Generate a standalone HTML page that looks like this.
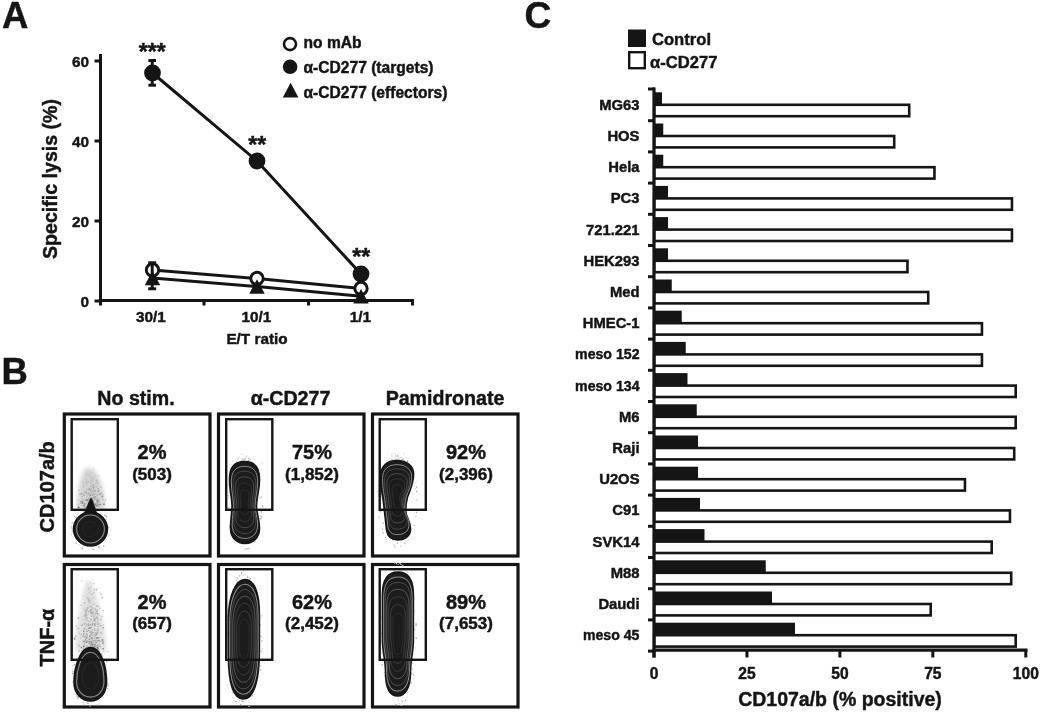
<!DOCTYPE html>
<html><head><meta charset="utf-8"><title>Figure</title>
<style>
html,body{margin:0;padding:0;background:#fff;}
body{width:1040px;height:712px;overflow:hidden;}
svg{display:block;}
text{font-family:"Liberation Sans",Arial,Helvetica,sans-serif;font-weight:bold;fill:#151515;stroke:#151515;stroke-width:0.45px;}
</style></head><body>
<svg width="1040" height="712" viewBox="0 0 1040 712">
<defs><filter id="bl" x="-50%" y="-50%" width="200%" height="200%"><feGaussianBlur stdDeviation="2.2"/></filter></defs>
<rect width="1040" height="712" fill="#fff"/>
<text x="2" y="28" font-size="36.5" text-anchor="start" >A</text>
<line x1="100.5" y1="54" x2="100.5" y2="305.5" stroke="#151515" stroke-width="3"/>
<line x1="99" y1="300.5" x2="414" y2="300.5" stroke="#151515" stroke-width="3"/>
<line x1="94.5" y1="61" x2="100" y2="61" stroke="#151515" stroke-width="3"/>
<text x="89" y="66.5" font-size="15.3" text-anchor="end" >60</text>
<line x1="94.5" y1="141" x2="100" y2="141" stroke="#151515" stroke-width="3"/>
<text x="89" y="146.5" font-size="15.3" text-anchor="end" >40</text>
<line x1="94.5" y1="221" x2="100" y2="221" stroke="#151515" stroke-width="3"/>
<text x="89" y="226.5" font-size="15.3" text-anchor="end" >20</text>
<line x1="94.5" y1="301" x2="100" y2="301" stroke="#151515" stroke-width="3"/>
<text x="89" y="306.5" font-size="15.3" text-anchor="end" >0</text>
<line x1="204" y1="300" x2="204" y2="305.5" stroke="#151515" stroke-width="3"/>
<line x1="308.5" y1="300" x2="308.5" y2="305.5" stroke="#151515" stroke-width="3"/>
<line x1="412.5" y1="300" x2="412.5" y2="305.5" stroke="#151515" stroke-width="3"/>
<text x="151" y="322" font-size="15.3" text-anchor="middle" >30/1</text>
<text x="256.3" y="322" font-size="15.3" text-anchor="middle" >10/1</text>
<text x="360.5" y="322" font-size="15.3" text-anchor="middle" >1/1</text>
<text x="257" y="343.5" font-size="15.3" text-anchor="middle" >E/T ratio</text>
<text transform="translate(57,179) rotate(-90)" x="0" y="0" font-size="19.6" text-anchor="middle">Specific lysis (%)</text>
<polyline points="152.5,278 257,286.5 361,296.2" fill="none" stroke="#151515" stroke-width="3"/>
<polyline points="152.5,270 257,278.5 361,288.5" fill="none" stroke="#151515" stroke-width="3"/>
<polyline points="152.5,73 257,161 361,274" fill="none" stroke="#151515" stroke-width="3"/>
<circle cx="152.5" cy="270" r="6.2" fill="#fff" stroke="#151515" stroke-width="2.9"/>
<circle cx="257" cy="278.5" r="6.2" fill="#fff" stroke="#151515" stroke-width="2.9"/>
<circle cx="361" cy="288.5" r="6.2" fill="#fff" stroke="#151515" stroke-width="2.9"/>
<line x1="152.2" y1="262.8" x2="152.2" y2="288.8" stroke="#151515" stroke-width="3"/>
<line x1="148.2" y1="262.8" x2="156.2" y2="262.8" stroke="#151515" stroke-width="3"/>
<line x1="148.2" y1="288.8" x2="156.2" y2="288.8" stroke="#151515" stroke-width="3"/>
<polygon points="152.5,270.75 144.75,285.25 160.25,285.25" fill="#151515"/>
<polygon points="257,279.25 249.25,293.75 264.75,293.75" fill="#151515"/>
<polygon points="361,288.95 353.25,303.45 368.75,303.45" fill="#151515"/>
<line x1="152.2" y1="60.5" x2="152.2" y2="85.2" stroke="#151515" stroke-width="3"/>
<line x1="148.39999999999998" y1="60.5" x2="156.0" y2="60.5" stroke="#151515" stroke-width="3"/>
<line x1="148.39999999999998" y1="85.2" x2="156.0" y2="85.2" stroke="#151515" stroke-width="3"/>
<circle cx="152.5" cy="73" r="8.4" fill="#151515"/>
<circle cx="257" cy="161" r="8.4" fill="#151515"/>
<circle cx="361" cy="274" r="8.4" fill="#151515"/>
<text x="152.3" y="60" font-size="23" text-anchor="middle" >***</text>
<text x="257.3" y="152.5" font-size="23" text-anchor="middle" >**</text>
<text x="361.2" y="264.5" font-size="23" text-anchor="middle" >**</text>
<circle cx="290" cy="44.1" r="6" fill="#fff" stroke="#151515" stroke-width="2.6"/>
<text x="303.5" y="48.3" font-size="15.6" text-anchor="start" >no mAb</text>
<circle cx="290.1" cy="66.8" r="7.3" fill="#151515"/>
<text x="303.5" y="72.9" font-size="15.6" text-anchor="start" >α-CD277 (targets)</text>
<polygon points="290.6,82.8 282.8,97.5 298.4,97.5" fill="#151515"/>
<text x="303.5" y="97.6" font-size="15.6" text-anchor="start" >α-CD277 (effectors)</text>
<text x="1.5" y="384" font-size="36.5" text-anchor="start" >B</text>
<rect x="64.3" y="414.0" width="145.7" height="142.0" fill="none" stroke="#151515" stroke-width="3.2"/>
<rect x="64.3" y="564.5" width="145.7" height="142.5" fill="none" stroke="#151515" stroke-width="3.2"/>
<rect x="218.5" y="414.0" width="145.5" height="142.0" fill="none" stroke="#151515" stroke-width="3.2"/>
<rect x="218.5" y="564.5" width="145.5" height="142.5" fill="none" stroke="#151515" stroke-width="3.2"/>
<rect x="372.5" y="414.0" width="145.5" height="142.0" fill="none" stroke="#151515" stroke-width="3.2"/>
<rect x="372.5" y="564.5" width="145.5" height="142.5" fill="none" stroke="#151515" stroke-width="3.2"/>
<text x="136" y="405" font-size="19.6" text-anchor="middle" >No stim.</text>
<text x="290.5" y="405" font-size="19.6" text-anchor="middle" >α-CD277</text>
<text x="445" y="405" font-size="19.6" text-anchor="middle" >Pamidronate</text>
<text transform="translate(54,486.8) rotate(-90)" font-size="20" text-anchor="middle">CD107a/b</text>
<text transform="translate(54,637.5) rotate(-90)" font-size="20" text-anchor="middle">TNF-α</text>
<text x="152" y="459" font-size="20" text-anchor="middle" >2%</text>
<text x="152" y="479.5" font-size="17" text-anchor="middle" >(503)</text>
<text x="312" y="459" font-size="20" text-anchor="middle" >75%</text>
<text x="312" y="479.5" font-size="17" text-anchor="middle" >(1,852)</text>
<text x="466" y="459" font-size="20" text-anchor="middle" >92%</text>
<text x="466" y="479.5" font-size="17" text-anchor="middle" >(2,396)</text>
<text x="152" y="609" font-size="20" text-anchor="middle" >2%</text>
<text x="152" y="628.7" font-size="17" text-anchor="middle" >(657)</text>
<text x="312" y="609" font-size="20" text-anchor="middle" >62%</text>
<text x="312" y="628.7" font-size="17" text-anchor="middle" >(2,452)</text>
<text x="466" y="609" font-size="20" text-anchor="middle" >89%</text>
<text x="466" y="628.7" font-size="17" text-anchor="middle" >(7,653)</text>
<text x="524.5" y="28" font-size="37" text-anchor="start" >C</text>
<rect x="628" y="29.5" width="18" height="17.5" fill="#151515"/>
<text x="652" y="45" font-size="16.6" text-anchor="start" >Control</text>
<rect x="629.2" y="52.2" width="15.6" height="16" fill="#fff" stroke="#151515" stroke-width="2.4"/>
<text x="650" y="67.5" font-size="16.6" text-anchor="start" >α-CD277</text>
<rect x="654.2" y="104.8" width="254.99999999999994" height="11.4" fill="#fff" stroke="#151515" stroke-width="2.6"/>
<rect x="654.2" y="92.3" width="7.7999999999999545" height="12.6" fill="#151515"/>
<text x="639.5" y="109.69999999999999" font-size="14.8" text-anchor="end" >MG63</text>
<line x1="648" y1="120.7" x2="655" y2="120.7" stroke="#151515" stroke-width="3"/>
<rect x="654.2" y="136.0" width="239.99999999999994" height="11.4" fill="#fff" stroke="#151515" stroke-width="2.6"/>
<rect x="654.2" y="123.5" width="9.049999999999955" height="12.6" fill="#151515"/>
<text x="639.5" y="140.9" font-size="14.8" text-anchor="end" >HOS</text>
<line x1="648" y1="151.9" x2="655" y2="151.9" stroke="#151515" stroke-width="3"/>
<rect x="654.2" y="167.20000000000002" width="280.24999999999994" height="11.4" fill="#fff" stroke="#151515" stroke-width="2.6"/>
<rect x="654.2" y="154.70000000000002" width="9.049999999999955" height="12.6" fill="#151515"/>
<text x="639.5" y="172.1" font-size="14.8" text-anchor="end" >Hela</text>
<line x1="648" y1="183.1" x2="655" y2="183.1" stroke="#151515" stroke-width="3"/>
<rect x="654.2" y="198.4" width="357.74999999999994" height="11.4" fill="#fff" stroke="#151515" stroke-width="2.6"/>
<rect x="654.2" y="185.9" width="13.799999999999955" height="12.6" fill="#151515"/>
<text x="639.5" y="203.29999999999998" font-size="14.8" text-anchor="end" >PC3</text>
<line x1="648" y1="214.29999999999998" x2="655" y2="214.29999999999998" stroke="#151515" stroke-width="3"/>
<rect x="654.2" y="229.60000000000002" width="357.74999999999994" height="11.4" fill="#fff" stroke="#151515" stroke-width="2.6"/>
<rect x="654.2" y="217.10000000000002" width="13.799999999999955" height="12.6" fill="#151515"/>
<text x="639.5" y="234.5" font-size="14.8" text-anchor="end" >721.221</text>
<line x1="648" y1="245.5" x2="655" y2="245.5" stroke="#151515" stroke-width="3"/>
<rect x="654.2" y="260.8" width="253.24999999999994" height="11.4" fill="#fff" stroke="#151515" stroke-width="2.6"/>
<rect x="654.2" y="248.3" width="13.799999999999955" height="12.6" fill="#151515"/>
<text x="639.5" y="265.70000000000005" font-size="14.8" text-anchor="end" >HEK293</text>
<line x1="648" y1="276.7" x2="655" y2="276.7" stroke="#151515" stroke-width="3"/>
<rect x="654.2" y="292.0" width="273.99999999999994" height="11.4" fill="#fff" stroke="#151515" stroke-width="2.6"/>
<rect x="654.2" y="279.5" width="17.549999999999955" height="12.6" fill="#151515"/>
<text x="639.5" y="296.90000000000003" font-size="14.8" text-anchor="end" >Med</text>
<line x1="648" y1="307.9" x2="655" y2="307.9" stroke="#151515" stroke-width="3"/>
<rect x="654.2" y="323.2" width="327.74999999999994" height="11.4" fill="#fff" stroke="#151515" stroke-width="2.6"/>
<rect x="654.2" y="310.7" width="27.549999999999955" height="12.6" fill="#151515"/>
<text x="639.5" y="328.1" font-size="14.8" text-anchor="end" >HMEC-1</text>
<line x1="648" y1="339.09999999999997" x2="655" y2="339.09999999999997" stroke="#151515" stroke-width="3"/>
<rect x="654.2" y="354.40000000000003" width="327.74999999999994" height="11.4" fill="#fff" stroke="#151515" stroke-width="2.6"/>
<rect x="654.2" y="341.90000000000003" width="31.549999999999955" height="12.6" fill="#151515"/>
<text x="639.5" y="359.30000000000007" font-size="14.8" text-anchor="end" textLength="64.4" lengthAdjust="spacingAndGlyphs" >meso 152</text>
<line x1="648" y1="370.3" x2="655" y2="370.3" stroke="#151515" stroke-width="3"/>
<rect x="654.2" y="385.6" width="361.49999999999994" height="11.4" fill="#fff" stroke="#151515" stroke-width="2.6"/>
<rect x="654.2" y="373.1" width="33.299999999999955" height="12.6" fill="#151515"/>
<text x="639.5" y="390.50000000000006" font-size="14.8" text-anchor="end" textLength="64.4" lengthAdjust="spacingAndGlyphs" >meso 134</text>
<line x1="648" y1="401.5" x2="655" y2="401.5" stroke="#151515" stroke-width="3"/>
<rect x="654.2" y="416.8" width="361.49999999999994" height="11.4" fill="#fff" stroke="#151515" stroke-width="2.6"/>
<rect x="654.2" y="404.3" width="42.549999999999955" height="12.6" fill="#151515"/>
<text x="639.5" y="421.70000000000005" font-size="14.8" text-anchor="end" >M6</text>
<line x1="648" y1="432.7" x2="655" y2="432.7" stroke="#151515" stroke-width="3"/>
<rect x="654.2" y="448.0" width="359.99999999999994" height="11.4" fill="#fff" stroke="#151515" stroke-width="2.6"/>
<rect x="654.2" y="435.5" width="43.799999999999955" height="12.6" fill="#151515"/>
<text x="639.5" y="452.90000000000003" font-size="14.8" text-anchor="end" >Raji</text>
<line x1="648" y1="463.9" x2="655" y2="463.9" stroke="#151515" stroke-width="3"/>
<rect x="654.2" y="479.2" width="310.74999999999994" height="11.4" fill="#fff" stroke="#151515" stroke-width="2.6"/>
<rect x="654.2" y="466.7" width="43.799999999999955" height="12.6" fill="#151515"/>
<text x="639.5" y="484.1" font-size="14.8" text-anchor="end" >U2OS</text>
<line x1="648" y1="495.09999999999997" x2="655" y2="495.09999999999997" stroke="#151515" stroke-width="3"/>
<rect x="654.2" y="510.4" width="355.74999999999994" height="11.399999999999944" fill="#fff" stroke="#151515" stroke-width="2.6"/>
<rect x="654.2" y="497.9" width="45.799999999999955" height="12.6" fill="#151515"/>
<text x="639.5" y="515.3" font-size="14.8" text-anchor="end" >C91</text>
<line x1="648" y1="526.3" x2="655" y2="526.3" stroke="#151515" stroke-width="3"/>
<rect x="654.2" y="541.5999999999999" width="337.49999999999994" height="11.4" fill="#fff" stroke="#151515" stroke-width="2.6"/>
<rect x="654.2" y="529.0999999999999" width="50.299999999999955" height="12.6" fill="#151515"/>
<text x="639.5" y="546.5" font-size="14.8" text-anchor="end" >SVK14</text>
<line x1="648" y1="557.5" x2="655" y2="557.5" stroke="#151515" stroke-width="3"/>
<rect x="654.2" y="572.8" width="356.99999999999994" height="11.4" fill="#fff" stroke="#151515" stroke-width="2.6"/>
<rect x="654.2" y="560.3" width="111.54999999999995" height="12.6" fill="#151515"/>
<text x="639.5" y="577.7" font-size="14.8" text-anchor="end" >M88</text>
<line x1="648" y1="588.7" x2="655" y2="588.7" stroke="#151515" stroke-width="3"/>
<rect x="654.2" y="604.0" width="276.49999999999994" height="11.4" fill="#fff" stroke="#151515" stroke-width="2.6"/>
<rect x="654.2" y="591.5" width="117.79999999999995" height="12.6" fill="#151515"/>
<text x="639.5" y="608.9000000000001" font-size="14.8" text-anchor="end" >Daudi</text>
<line x1="648" y1="619.9000000000001" x2="655" y2="619.9000000000001" stroke="#151515" stroke-width="3"/>
<rect x="654.2" y="635.1999999999999" width="361.49999999999994" height="11.4" fill="#fff" stroke="#151515" stroke-width="2.6"/>
<rect x="654.2" y="622.6999999999999" width="140.79999999999995" height="12.6" fill="#151515"/>
<text x="639.5" y="640.1" font-size="14.8" text-anchor="end" textLength="56.6" lengthAdjust="spacingAndGlyphs" >meso 45</text>
<line x1="648" y1="651.1" x2="655" y2="651.1" stroke="#151515" stroke-width="3"/>
<line x1="648" y1="89" x2="655" y2="89" stroke="#151515" stroke-width="3"/>
<line x1="654" y1="87.5" x2="654" y2="657.5" stroke="#151515" stroke-width="3.2"/>
<line x1="652.5" y1="650.2" x2="1027.5" y2="650.2" stroke="#151515" stroke-width="3.2"/>
<line x1="654.0" y1="650.2" x2="654.0" y2="657.5" stroke="#151515" stroke-width="3"/>
<text x="654.0" y="679" font-size="15.6" text-anchor="middle" >0</text>
<line x1="746.95" y1="650.2" x2="746.95" y2="657.5" stroke="#151515" stroke-width="3"/>
<text x="746.95" y="679" font-size="15.6" text-anchor="middle" >25</text>
<line x1="839.9" y1="650.2" x2="839.9" y2="657.5" stroke="#151515" stroke-width="3"/>
<text x="839.9" y="679" font-size="15.6" text-anchor="middle" >50</text>
<line x1="932.85" y1="650.2" x2="932.85" y2="657.5" stroke="#151515" stroke-width="3"/>
<text x="932.85" y="679" font-size="15.6" text-anchor="middle" >75</text>
<line x1="1025.8" y1="650.2" x2="1025.8" y2="657.5" stroke="#151515" stroke-width="3"/>
<text x="1025.8" y="679" font-size="15.6" text-anchor="middle" >100</text>
<text x="840" y="706" font-size="19.5" text-anchor="middle" >CD107a/b (% positive)</text>
<path d="M86,468 C90,466 96,470 100,480 C104,492 106,502 104,510 L78,510 C76,500 78,488 81,478 C83,472 84,469 86,468 Z" fill="#d4d4d4" filter="url(#bl)"/>
<path d="M88,580 C92,580 96,592 100,610 C104,628 107,640 106,652 L76,652 C74,640 77,625 80,610 C83,594 85,580 88,580 Z" fill="#e0e0e0" filter="url(#bl)"/>
<rect x="94.7" y="490.7" width="1.6" height="1.6" fill="rgb(210,210,210)"/>
<rect x="95.6" y="480.2" width="1.6" height="1.6" fill="rgb(193,193,193)"/>
<rect x="94.7" y="486.5" width="1.6" height="1.6" fill="rgb(202,202,202)"/>
<rect x="93.3" y="493.9" width="1.0" height="1.0" fill="rgb(155,155,155)"/>
<rect x="85.1" y="506.0" width="1.6" height="1.6" fill="rgb(208,208,208)"/>
<rect x="85.5" y="493.0" width="1.0" height="1.0" fill="rgb(147,147,147)"/>
<rect x="94.3" y="497.5" width="1.6" height="1.6" fill="rgb(171,171,171)"/>
<rect x="94.3" y="490.2" width="1.0" height="1.0" fill="rgb(164,164,164)"/>
<rect x="88.0" y="480.7" width="1.6" height="1.6" fill="rgb(211,211,211)"/>
<rect x="89.3" y="477.8" width="1.0" height="1.0" fill="rgb(213,213,213)"/>
<rect x="81.4" y="495.9" width="1.3" height="1.3" fill="rgb(179,179,179)"/>
<rect x="88.8" y="491.9" width="1.0" height="1.0" fill="rgb(198,198,198)"/>
<rect x="90.8" y="500.9" width="1.3" height="1.3" fill="rgb(168,168,168)"/>
<rect x="98.0" y="501.6" width="1.0" height="1.0" fill="rgb(188,188,188)"/>
<rect x="84.1" y="481.7" width="1.3" height="1.3" fill="rgb(208,208,208)"/>
<rect x="94.8" y="493.8" width="1.0" height="1.0" fill="rgb(146,146,146)"/>
<rect x="79.9" y="502.3" width="1.6" height="1.6" fill="rgb(185,185,185)"/>
<rect x="85.9" y="491.6" width="1.3" height="1.3" fill="rgb(182,182,182)"/>
<rect x="93.2" y="478.3" width="1.0" height="1.0" fill="rgb(193,193,193)"/>
<rect x="92.3" y="477.6" width="1.6" height="1.6" fill="rgb(194,194,194)"/>
<rect x="88.0" y="498.0" width="1.6" height="1.6" fill="rgb(156,156,156)"/>
<rect x="85.5" y="491.5" width="1.3" height="1.3" fill="rgb(153,153,153)"/>
<rect x="91.7" y="484.4" width="1.0" height="1.0" fill="rgb(178,178,178)"/>
<rect x="91.8" y="501.8" width="1.3" height="1.3" fill="rgb(178,178,178)"/>
<rect x="85.4" y="479.2" width="1.3" height="1.3" fill="rgb(185,185,185)"/>
<rect x="92.9" y="504.4" width="1.3" height="1.3" fill="rgb(187,187,187)"/>
<rect x="88.1" y="506.7" width="1.0" height="1.0" fill="rgb(190,190,190)"/>
<rect x="86.4" y="484.8" width="1.0" height="1.0" fill="rgb(203,203,203)"/>
<rect x="91.6" y="471.6" width="1.0" height="1.0" fill="rgb(210,210,210)"/>
<rect x="87.6" y="493.7" width="1.6" height="1.6" fill="rgb(188,188,188)"/>
<rect x="97.5" y="490.5" width="1.6" height="1.6" fill="rgb(155,155,155)"/>
<rect x="98.5" y="500.4" width="1.6" height="1.6" fill="rgb(210,210,210)"/>
<rect x="85.9" y="503.0" width="1.6" height="1.6" fill="rgb(205,205,205)"/>
<rect x="93.8" y="493.2" width="1.0" height="1.0" fill="rgb(201,201,201)"/>
<rect x="96.0" y="494.4" width="1.6" height="1.6" fill="rgb(207,207,207)"/>
<rect x="94.4" y="483.5" width="1.3" height="1.3" fill="rgb(210,210,210)"/>
<rect x="93.9" y="498.9" width="1.6" height="1.6" fill="rgb(183,183,183)"/>
<rect x="91.9" y="488.1" width="1.3" height="1.3" fill="rgb(195,195,195)"/>
<rect x="95.1" y="495.3" width="1.3" height="1.3" fill="rgb(141,141,141)"/>
<rect x="94.6" y="495.6" width="1.0" height="1.0" fill="rgb(208,208,208)"/>
<rect x="90.1" y="502.0" width="1.6" height="1.6" fill="rgb(151,151,151)"/>
<rect x="86.1" y="473.5" width="1.6" height="1.6" fill="rgb(196,196,196)"/>
<rect x="86.4" y="491.9" width="1.3" height="1.3" fill="rgb(164,164,164)"/>
<rect x="78.0" y="506.6" width="1.6" height="1.6" fill="rgb(125,125,125)"/>
<rect x="77.7" y="504.0" width="1.0" height="1.0" fill="rgb(180,180,180)"/>
<rect x="89.1" y="496.9" width="1.3" height="1.3" fill="rgb(153,153,153)"/>
<rect x="83.0" y="499.5" width="1.0" height="1.0" fill="rgb(150,150,150)"/>
<rect x="83.8" y="503.2" width="1.6" height="1.6" fill="rgb(137,137,137)"/>
<rect x="92.6" y="503.2" width="1.0" height="1.0" fill="rgb(145,145,145)"/>
<rect x="97.0" y="502.9" width="1.0" height="1.0" fill="rgb(170,170,170)"/>
<rect x="96.5" y="500.8" width="1.3" height="1.3" fill="rgb(131,131,131)"/>
<rect x="88.7" y="506.2" width="1.0" height="1.0" fill="rgb(177,177,177)"/>
<rect x="86.6" y="480.7" width="1.6" height="1.6" fill="rgb(196,196,196)"/>
<rect x="91.5" y="503.9" width="1.6" height="1.6" fill="rgb(168,168,168)"/>
<rect x="84.5" y="491.4" width="1.3" height="1.3" fill="rgb(207,207,207)"/>
<rect x="81.9" y="502.7" width="1.3" height="1.3" fill="rgb(144,144,144)"/>
<rect x="82.7" y="504.9" width="1.6" height="1.6" fill="rgb(206,206,206)"/>
<rect x="93.5" y="493.0" width="1.0" height="1.0" fill="rgb(187,187,187)"/>
<rect x="91.9" y="501.5" width="1.3" height="1.3" fill="rgb(201,201,201)"/>
<rect x="93.2" y="503.2" width="1.6" height="1.6" fill="rgb(201,201,201)"/>
<rect x="87.4" y="506.6" width="1.0" height="1.0" fill="rgb(157,157,157)"/>
<rect x="87.5" y="473.3" width="1.6" height="1.6" fill="rgb(200,200,200)"/>
<rect x="77.6" y="499.8" width="1.0" height="1.0" fill="rgb(177,177,177)"/>
<rect x="88.2" y="503.6" width="1.3" height="1.3" fill="rgb(194,194,194)"/>
<rect x="82.5" y="486.4" width="1.6" height="1.6" fill="rgb(197,197,197)"/>
<rect x="90.4" y="493.7" width="1.6" height="1.6" fill="rgb(205,205,205)"/>
<rect x="84.0" y="491.7" width="1.3" height="1.3" fill="rgb(155,155,155)"/>
<rect x="92.5" y="503.6" width="1.0" height="1.0" fill="rgb(130,130,130)"/>
<rect x="89.5" y="496.9" width="1.0" height="1.0" fill="rgb(180,180,180)"/>
<rect x="90.3" y="498.8" width="1.0" height="1.0" fill="rgb(149,149,149)"/>
<rect x="83.2" y="484.6" width="1.3" height="1.3" fill="rgb(188,188,188)"/>
<rect x="92.0" y="500.5" width="1.3" height="1.3" fill="rgb(168,168,168)"/>
<rect x="96.4" y="502.8" width="1.3" height="1.3" fill="rgb(191,191,191)"/>
<rect x="93.7" y="475.9" width="1.3" height="1.3" fill="rgb(212,212,212)"/>
<rect x="91.3" y="497.6" width="1.6" height="1.6" fill="rgb(179,179,179)"/>
<rect x="77.1" y="506.5" width="1.0" height="1.0" fill="rgb(152,152,152)"/>
<rect x="83.8" y="500.8" width="1.0" height="1.0" fill="rgb(172,172,172)"/>
<rect x="92.6" y="500.9" width="1.3" height="1.3" fill="rgb(136,136,136)"/>
<rect x="93.7" y="505.5" width="1.3" height="1.3" fill="rgb(169,169,169)"/>
<rect x="88.6" y="481.9" width="1.0" height="1.0" fill="rgb(197,197,197)"/>
<rect x="87.0" y="500.3" width="1.0" height="1.0" fill="rgb(188,188,188)"/>
<rect x="92.3" y="505.0" width="1.6" height="1.6" fill="rgb(199,199,199)"/>
<rect x="87.6" y="499.6" width="1.3" height="1.3" fill="rgb(203,203,203)"/>
<rect x="93.2" y="486.7" width="1.3" height="1.3" fill="rgb(164,164,164)"/>
<rect x="95.1" y="504.8" width="1.6" height="1.6" fill="rgb(192,192,192)"/>
<rect x="97.1" y="494.1" width="1.3" height="1.3" fill="rgb(177,177,177)"/>
<rect x="89.1" y="493.8" width="1.3" height="1.3" fill="rgb(188,188,188)"/>
<rect x="92.4" y="497.4" width="1.0" height="1.0" fill="rgb(179,179,179)"/>
<rect x="86.2" y="492.7" width="1.0" height="1.0" fill="rgb(149,149,149)"/>
<rect x="89.9" y="506.7" width="1.0" height="1.0" fill="rgb(132,132,132)"/>
<rect x="89.2" y="479.5" width="1.0" height="1.0" fill="rgb(208,208,208)"/>
<rect x="103.1" y="503.5" width="1.6" height="1.6" fill="rgb(133,133,133)"/>
<rect x="90.3" y="503.5" width="1.6" height="1.6" fill="rgb(126,126,126)"/>
<rect x="93.5" y="495.9" width="1.3" height="1.3" fill="rgb(189,189,189)"/>
<rect x="88.9" y="477.3" width="1.0" height="1.0" fill="rgb(212,212,212)"/>
<rect x="85.0" y="499.4" width="1.0" height="1.0" fill="rgb(146,146,146)"/>
<rect x="91.3" y="498.8" width="1.0" height="1.0" fill="rgb(204,204,204)"/>
<rect x="94.4" y="491.2" width="1.3" height="1.3" fill="rgb(179,179,179)"/>
<rect x="98.9" y="499.1" width="1.0" height="1.0" fill="rgb(135,135,135)"/>
<rect x="92.5" y="488.4" width="1.3" height="1.3" fill="rgb(204,204,204)"/>
<rect x="86.8" y="499.3" width="1.6" height="1.6" fill="rgb(177,177,177)"/>
<rect x="89.9" y="484.9" width="1.0" height="1.0" fill="rgb(198,198,198)"/>
<rect x="91.6" y="506.9" width="1.0" height="1.0" fill="rgb(162,162,162)"/>
<rect x="90.7" y="496.4" width="1.3" height="1.3" fill="rgb(195,195,195)"/>
<rect x="92.4" y="481.0" width="1.3" height="1.3" fill="rgb(196,196,196)"/>
<rect x="84.6" y="506.4" width="1.0" height="1.0" fill="rgb(183,183,183)"/>
<rect x="84.2" y="506.7" width="1.6" height="1.6" fill="rgb(141,141,141)"/>
<rect x="97.6" y="482.9" width="1.0" height="1.0" fill="rgb(172,172,172)"/>
<rect x="98.7" y="503.8" width="1.3" height="1.3" fill="rgb(129,129,129)"/>
<rect x="91.1" y="484.1" width="1.3" height="1.3" fill="rgb(211,211,211)"/>
<rect x="88.2" y="504.5" width="1.3" height="1.3" fill="rgb(191,191,191)"/>
<rect x="87.6" y="476.2" width="1.3" height="1.3" fill="rgb(210,210,210)"/>
<rect x="89.4" y="494.5" width="1.6" height="1.6" fill="rgb(144,144,144)"/>
<rect x="103.2" y="490.7" width="1.3" height="1.3" fill="rgb(212,212,212)"/>
<rect x="92.2" y="486.7" width="1.3" height="1.3" fill="rgb(210,210,210)"/>
<rect x="94.9" y="496.1" width="1.6" height="1.6" fill="rgb(199,199,199)"/>
<rect x="99.5" y="502.6" width="1.6" height="1.6" fill="rgb(201,201,201)"/>
<rect x="94.5" y="475.8" width="1.3" height="1.3" fill="rgb(214,214,214)"/>
<rect x="102.6" y="499.3" width="1.0" height="1.0" fill="rgb(142,142,142)"/>
<rect x="97.7" y="500.0" width="1.6" height="1.6" fill="rgb(152,152,152)"/>
<rect x="83.6" y="492.8" width="1.6" height="1.6" fill="rgb(204,204,204)"/>
<rect x="104.8" y="499.0" width="1.6" height="1.6" fill="rgb(202,202,202)"/>
<rect x="83.7" y="504.9" width="1.0" height="1.0" fill="rgb(133,133,133)"/>
<rect x="83.5" y="505.3" width="1.6" height="1.6" fill="rgb(139,139,139)"/>
<rect x="94.2" y="503.8" width="1.6" height="1.6" fill="rgb(158,158,158)"/>
<rect x="80.5" y="500.5" width="1.0" height="1.0" fill="rgb(153,153,153)"/>
<rect x="96.3" y="479.5" width="1.3" height="1.3" fill="rgb(181,181,181)"/>
<rect x="92.7" y="503.8" width="1.6" height="1.6" fill="rgb(160,160,160)"/>
<rect x="87.7" y="472.9" width="1.3" height="1.3" fill="rgb(210,210,210)"/>
<rect x="89.6" y="503.0" width="1.6" height="1.6" fill="rgb(144,144,144)"/>
<rect x="96.6" y="505.1" width="1.3" height="1.3" fill="rgb(140,140,140)"/>
<rect x="93.7" y="488.1" width="1.3" height="1.3" fill="rgb(210,210,210)"/>
<rect x="90.6" y="487.4" width="1.3" height="1.3" fill="rgb(179,179,179)"/>
<rect x="86.6" y="495.8" width="1.3" height="1.3" fill="rgb(185,185,185)"/>
<rect x="90.1" y="505.3" width="1.0" height="1.0" fill="rgb(151,151,151)"/>
<rect x="91.8" y="479.0" width="1.3" height="1.3" fill="rgb(210,210,210)"/>
<rect x="87.7" y="499.8" width="1.3" height="1.3" fill="rgb(203,203,203)"/>
<rect x="85.1" y="477.6" width="1.6" height="1.6" fill="rgb(207,207,207)"/>
<rect x="91.5" y="480.5" width="1.3" height="1.3" fill="rgb(188,188,188)"/>
<rect x="96.5" y="495.0" width="1.0" height="1.0" fill="rgb(180,180,180)"/>
<rect x="85.5" y="506.9" width="1.3" height="1.3" fill="rgb(206,206,206)"/>
<rect x="89.5" y="472.6" width="1.6" height="1.6" fill="rgb(207,207,207)"/>
<rect x="85.9" y="506.4" width="1.0" height="1.0" fill="rgb(193,193,193)"/>
<rect x="91.5" y="478.8" width="1.6" height="1.6" fill="rgb(212,212,212)"/>
<rect x="93.3" y="496.7" width="1.6" height="1.6" fill="rgb(150,150,150)"/>
<rect x="89.7" y="489.1" width="1.3" height="1.3" fill="rgb(208,208,208)"/>
<rect x="94.9" y="487.2" width="1.0" height="1.0" fill="rgb(213,213,213)"/>
<rect x="86.3" y="506.1" width="1.3" height="1.3" fill="rgb(145,145,145)"/>
<rect x="93.4" y="489.9" width="1.3" height="1.3" fill="rgb(195,195,195)"/>
<rect x="93.0" y="468.4" width="1.3" height="1.3" fill="rgb(210,210,210)"/>
<rect x="96.7" y="481.8" width="1.3" height="1.3" fill="rgb(178,178,178)"/>
<rect x="87.1" y="488.1" width="1.3" height="1.3" fill="rgb(211,211,211)"/>
<rect x="85.6" y="507.0" width="1.3" height="1.3" fill="rgb(170,170,170)"/>
<rect x="87.5" y="504.2" width="1.0" height="1.0" fill="rgb(187,187,187)"/>
<rect x="87.4" y="503.8" width="1.3" height="1.3" fill="rgb(190,190,190)"/>
<rect x="102.5" y="494.2" width="1.3" height="1.3" fill="rgb(192,192,192)"/>
<rect x="89.2" y="502.8" width="1.3" height="1.3" fill="rgb(143,143,143)"/>
<rect x="91.1" y="505.4" width="1.6" height="1.6" fill="rgb(120,120,120)"/>
<rect x="100.0" y="486.0" width="1.6" height="1.6" fill="rgb(193,193,193)"/>
<rect x="97.0" y="502.1" width="1.3" height="1.3" fill="rgb(155,155,155)"/>
<rect x="96.2" y="495.6" width="1.3" height="1.3" fill="rgb(202,202,202)"/>
<rect x="87.1" y="491.4" width="1.6" height="1.6" fill="rgb(195,195,195)"/>
<rect x="87.1" y="501.8" width="1.3" height="1.3" fill="rgb(193,193,193)"/>
<rect x="85.9" y="497.5" width="1.0" height="1.0" fill="rgb(183,183,183)"/>
<rect x="96.4" y="499.6" width="1.6" height="1.6" fill="rgb(145,145,145)"/>
<rect x="93.0" y="486.7" width="1.3" height="1.3" fill="rgb(166,166,166)"/>
<rect x="86.8" y="494.0" width="1.6" height="1.6" fill="rgb(202,202,202)"/>
<rect x="89.6" y="479.9" width="1.3" height="1.3" fill="rgb(206,206,206)"/>
<rect x="90.8" y="503.3" width="1.3" height="1.3" fill="rgb(131,131,131)"/>
<rect x="91.5" y="493.6" width="1.3" height="1.3" fill="rgb(177,177,177)"/>
<rect x="90.6" y="488.8" width="1.3" height="1.3" fill="rgb(181,181,181)"/>
<rect x="85.3" y="482.1" width="1.6" height="1.6" fill="rgb(194,194,194)"/>
<rect x="92.0" y="502.9" width="1.3" height="1.3" fill="rgb(130,130,130)"/>
<rect x="88.6" y="493.1" width="1.3" height="1.3" fill="rgb(184,184,184)"/>
<rect x="91.4" y="504.1" width="1.6" height="1.6" fill="rgb(211,211,211)"/>
<rect x="89.6" y="502.3" width="1.6" height="1.6" fill="rgb(140,140,140)"/>
<rect x="101.6" y="495.7" width="1.6" height="1.6" fill="rgb(144,144,144)"/>
<rect x="96.6" y="504.2" width="1.0" height="1.0" fill="rgb(119,119,119)"/>
<rect x="91.0" y="502.7" width="1.0" height="1.0" fill="rgb(123,123,123)"/>
<rect x="93.9" y="505.9" width="1.6" height="1.6" fill="rgb(141,141,141)"/>
<rect x="92.5" y="504.0" width="1.0" height="1.0" fill="rgb(139,139,139)"/>
<rect x="89.0" y="502.7" width="1.0" height="1.0" fill="rgb(193,193,193)"/>
<rect x="89.5" y="499.7" width="1.6" height="1.6" fill="rgb(193,193,193)"/>
<rect x="93.1" y="494.3" width="1.0" height="1.0" fill="rgb(159,159,159)"/>
<rect x="85.0" y="478.4" width="1.0" height="1.0" fill="rgb(202,202,202)"/>
<rect x="89.3" y="502.9" width="1.6" height="1.6" fill="rgb(214,214,214)"/>
<rect x="78.4" y="489.9" width="1.0" height="1.0" fill="rgb(175,175,175)"/>
<rect x="93.8" y="495.3" width="1.0" height="1.0" fill="rgb(197,197,197)"/>
<rect x="85.7" y="474.4" width="1.0" height="1.0" fill="rgb(213,213,213)"/>
<rect x="94.6" y="496.0" width="1.3" height="1.3" fill="rgb(163,163,163)"/>
<rect x="91.1" y="479.2" width="1.3" height="1.3" fill="rgb(202,202,202)"/>
<rect x="94.6" y="475.0" width="1.3" height="1.3" fill="rgb(207,207,207)"/>
<rect x="90.0" y="492.0" width="1.6" height="1.6" fill="rgb(195,195,195)"/>
<rect x="90.8" y="478.2" width="1.0" height="1.0" fill="rgb(199,199,199)"/>
<rect x="92.0" y="490.3" width="1.3" height="1.3" fill="rgb(201,201,201)"/>
<rect x="87.6" y="481.1" width="1.6" height="1.6" fill="rgb(190,190,190)"/>
<rect x="91.3" y="485.3" width="1.6" height="1.6" fill="rgb(182,182,182)"/>
<rect x="95.1" y="483.3" width="1.0" height="1.0" fill="rgb(197,197,197)"/>
<rect x="87.2" y="473.6" width="1.0" height="1.0" fill="rgb(201,201,201)"/>
<rect x="87.5" y="492.9" width="1.3" height="1.3" fill="rgb(153,153,153)"/>
<rect x="103.8" y="501.6" width="1.0" height="1.0" fill="rgb(184,184,184)"/>
<rect x="90.3" y="499.8" width="1.3" height="1.3" fill="rgb(169,169,169)"/>
<rect x="88.5" y="474.7" width="1.3" height="1.3" fill="rgb(206,206,206)"/>
<rect x="86.1" y="494.4" width="1.0" height="1.0" fill="rgb(207,207,207)"/>
<rect x="83.2" y="489.1" width="1.0" height="1.0" fill="rgb(207,207,207)"/>
<rect x="100.8" y="492.5" width="1.3" height="1.3" fill="rgb(162,162,162)"/>
<rect x="88.8" y="503.5" width="1.3" height="1.3" fill="rgb(169,169,169)"/>
<rect x="91.2" y="497.1" width="1.3" height="1.3" fill="rgb(179,179,179)"/>
<rect x="91.5" y="492.0" width="1.6" height="1.6" fill="rgb(187,187,187)"/>
<rect x="89.6" y="502.4" width="1.0" height="1.0" fill="rgb(211,211,211)"/>
<rect x="91.1" y="495.0" width="1.0" height="1.0" fill="rgb(200,200,200)"/>
<rect x="88.5" y="505.1" width="1.3" height="1.3" fill="rgb(181,181,181)"/>
<rect x="91.9" y="491.1" width="1.6" height="1.6" fill="rgb(167,167,167)"/>
<rect x="90.1" y="490.4" width="1.0" height="1.0" fill="rgb(197,197,197)"/>
<rect x="81.9" y="501.4" width="1.0" height="1.0" fill="rgb(129,129,129)"/>
<rect x="86.6" y="473.7" width="1.3" height="1.3" fill="rgb(210,210,210)"/>
<rect x="80.8" y="501.3" width="1.3" height="1.3" fill="rgb(143,143,143)"/>
<rect x="92.7" y="503.4" width="1.3" height="1.3" fill="rgb(202,202,202)"/>
<rect x="93.0" y="485.1" width="1.0" height="1.0" fill="rgb(174,174,174)"/>
<rect x="81.9" y="498.8" width="1.3" height="1.3" fill="rgb(187,187,187)"/>
<rect x="92.0" y="494.9" width="1.3" height="1.3" fill="rgb(177,177,177)"/>
<rect x="82.9" y="502.1" width="1.0" height="1.0" fill="rgb(192,192,192)"/>
<rect x="83.5" y="499.8" width="1.3" height="1.3" fill="rgb(201,201,201)"/>
<rect x="91.4" y="504.8" width="1.3" height="1.3" fill="rgb(116,116,116)"/>
<rect x="92.0" y="499.2" width="1.3" height="1.3" fill="rgb(131,131,131)"/>
<rect x="95.1" y="484.6" width="1.3" height="1.3" fill="rgb(208,208,208)"/>
<rect x="86.3" y="499.1" width="1.6" height="1.6" fill="rgb(143,143,143)"/>
<rect x="82.0" y="502.2" width="1.3" height="1.3" fill="rgb(142,142,142)"/>
<rect x="86.1" y="489.6" width="1.0" height="1.0" fill="rgb(170,170,170)"/>
<rect x="88.4" y="494.3" width="1.0" height="1.0" fill="rgb(201,201,201)"/>
<rect x="94.9" y="483.6" width="1.3" height="1.3" fill="rgb(200,200,200)"/>
<rect x="86.3" y="488.0" width="1.6" height="1.6" fill="rgb(201,201,201)"/>
<rect x="93.0" y="487.2" width="1.0" height="1.0" fill="rgb(161,161,161)"/>
<rect x="85.6" y="469.6" width="1.0" height="1.0" fill="rgb(206,206,206)"/>
<rect x="92.0" y="503.9" width="1.0" height="1.0" fill="rgb(186,186,186)"/>
<rect x="89.9" y="476.7" width="1.6" height="1.6" fill="rgb(198,198,198)"/>
<rect x="95.5" y="485.6" width="1.6" height="1.6" fill="rgb(206,206,206)"/>
<rect x="93.1" y="488.4" width="1.0" height="1.0" fill="rgb(170,170,170)"/>
<rect x="85.5" y="480.9" width="1.3" height="1.3" fill="rgb(206,206,206)"/>
<rect x="86.5" y="491.2" width="1.3" height="1.3" fill="rgb(212,212,212)"/>
<rect x="89.5" y="475.4" width="1.3" height="1.3" fill="rgb(195,195,195)"/>
<rect x="79.1" y="493.4" width="1.6" height="1.6" fill="rgb(188,188,188)"/>
<rect x="93.1" y="490.3" width="1.0" height="1.0" fill="rgb(180,180,180)"/>
<rect x="99.3" y="493.4" width="1.6" height="1.6" fill="rgb(159,159,159)"/>
<rect x="89.0" y="497.3" width="1.6" height="1.6" fill="rgb(201,201,201)"/>
<rect x="88.9" y="488.8" width="1.6" height="1.6" fill="rgb(157,157,157)"/>
<rect x="94.6" y="490.1" width="1.3" height="1.3" fill="rgb(180,180,180)"/>
<rect x="89.2" y="493.6" width="1.3" height="1.3" fill="rgb(213,213,213)"/>
<rect x="86.1" y="499.6" width="1.3" height="1.3" fill="rgb(133,133,133)"/>
<rect x="94.4" y="505.1" width="1.0" height="1.0" fill="rgb(172,172,172)"/>
<rect x="94.8" y="493.3" width="1.0" height="1.0" fill="rgb(203,203,203)"/>
<rect x="87.5" y="476.8" width="1.3" height="1.3" fill="rgb(211,211,211)"/>
<rect x="87.5" y="479.8" width="1.0" height="1.0" fill="rgb(197,197,197)"/>
<rect x="87.1" y="491.5" width="1.0" height="1.0" fill="rgb(204,204,204)"/>
<rect x="95.9" y="505.6" width="1.0" height="1.0" fill="rgb(133,133,133)"/>
<rect x="94.1" y="489.9" width="1.0" height="1.0" fill="rgb(163,163,163)"/>
<rect x="88.5" y="506.5" width="1.3" height="1.3" fill="rgb(118,118,118)"/>
<rect x="90.7" y="479.6" width="1.6" height="1.6" fill="rgb(190,190,190)"/>
<rect x="96.0" y="503.6" width="1.3" height="1.3" fill="rgb(193,193,193)"/>
<rect x="98.8" y="498.9" width="1.3" height="1.3" fill="rgb(198,198,198)"/>
<rect x="91.4" y="485.1" width="1.3" height="1.3" fill="rgb(189,189,189)"/>
<rect x="95.5" y="491.9" width="1.6" height="1.6" fill="rgb(205,205,205)"/>
<rect x="94.8" y="503.4" width="1.6" height="1.6" fill="rgb(134,134,134)"/>
<rect x="98.2" y="475.4" width="1.0" height="1.0" fill="rgb(194,194,194)"/>
<rect x="80.9" y="492.8" width="1.6" height="1.6" fill="rgb(161,161,161)"/>
<rect x="93.3" y="493.8" width="1.3" height="1.3" fill="rgb(173,173,173)"/>
<rect x="86.4" y="492.8" width="1.0" height="1.0" fill="rgb(202,202,202)"/>
<rect x="95.4" y="499.0" width="1.0" height="1.0" fill="rgb(173,173,173)"/>
<rect x="83.3" y="494.5" width="1.3" height="1.3" fill="rgb(153,153,153)"/>
<rect x="84.0" y="493.2" width="1.3" height="1.3" fill="rgb(210,210,210)"/>
<rect x="95.2" y="494.1" width="1.0" height="1.0" fill="rgb(178,178,178)"/>
<rect x="92.8" y="475.7" width="1.6" height="1.6" fill="rgb(211,211,211)"/>
<rect x="90.1" y="490.3" width="1.3" height="1.3" fill="rgb(168,168,168)"/>
<rect x="88.2" y="499.8" width="1.0" height="1.0" fill="rgb(147,147,147)"/>
<rect x="100.1" y="504.3" width="1.0" height="1.0" fill="rgb(135,135,135)"/>
<rect x="90.3" y="482.5" width="1.3" height="1.3" fill="rgb(177,177,177)"/>
<rect x="93.6" y="506.2" width="1.0" height="1.0" fill="rgb(133,133,133)"/>
<rect x="89.2" y="478.0" width="1.3" height="1.3" fill="rgb(204,204,204)"/>
<rect x="93.4" y="483.9" width="1.0" height="1.0" fill="rgb(177,177,177)"/>
<rect x="88.2" y="488.1" width="1.3" height="1.3" fill="rgb(160,160,160)"/>
<rect x="90.0" y="486.2" width="1.0" height="1.0" fill="rgb(198,198,198)"/>
<rect x="96.0" y="485.8" width="1.6" height="1.6" fill="rgb(194,194,194)"/>
<rect x="85.0" y="505.8" width="1.3" height="1.3" fill="rgb(197,197,197)"/>
<rect x="82.1" y="481.5" width="1.6" height="1.6" fill="rgb(193,193,193)"/>
<rect x="96.9" y="504.3" width="1.6" height="1.6" fill="rgb(163,163,163)"/>
<rect x="89.1" y="504.8" width="1.6" height="1.6" fill="rgb(204,204,204)"/>
<rect x="82.6" y="499.3" width="1.3" height="1.3" fill="rgb(192,192,192)"/>
<rect x="96.6" y="498.0" width="1.0" height="1.0" fill="rgb(185,185,185)"/>
<rect x="94.4" y="494.4" width="1.6" height="1.6" fill="rgb(211,211,211)"/>
<rect x="97.6" y="488.1" width="1.6" height="1.6" fill="rgb(178,178,178)"/>
<rect x="98.3" y="505.7" width="1.0" height="1.0" fill="rgb(139,139,139)"/>
<rect x="86.0" y="483.4" width="1.3" height="1.3" fill="rgb(187,187,187)"/>
<rect x="89.4" y="493.7" width="1.6" height="1.6" fill="rgb(180,180,180)"/>
<rect x="91.8" y="499.8" width="1.0" height="1.0" fill="rgb(213,213,213)"/>
<rect x="88.3" y="497.8" width="1.3" height="1.3" fill="rgb(171,171,171)"/>
<rect x="96.8" y="498.2" width="1.0" height="1.0" fill="rgb(166,166,166)"/>
<rect x="91.9" y="492.1" width="1.0" height="1.0" fill="rgb(214,214,214)"/>
<rect x="87.5" y="501.1" width="1.0" height="1.0" fill="rgb(174,174,174)"/>
<rect x="97.3" y="499.5" width="1.3" height="1.3" fill="rgb(180,180,180)"/>
<rect x="82.8" y="506.4" width="1.6" height="1.6" fill="rgb(209,209,209)"/>
<rect x="83.4" y="648.2" width="1.6" height="1.6" fill="rgb(154,154,154)"/>
<rect x="85.9" y="642.0" width="1.0" height="1.0" fill="rgb(192,192,192)"/>
<rect x="86.3" y="593.9" width="1.0" height="1.0" fill="rgb(208,208,208)"/>
<rect x="89.2" y="648.9" width="1.6" height="1.6" fill="rgb(204,204,204)"/>
<rect x="93.5" y="633.9" width="1.6" height="1.6" fill="rgb(198,198,198)"/>
<rect x="89.3" y="638.1" width="1.3" height="1.3" fill="rgb(159,159,159)"/>
<rect x="93.0" y="645.2" width="1.0" height="1.0" fill="rgb(186,186,186)"/>
<rect x="95.6" y="651.8" width="1.3" height="1.3" fill="rgb(139,139,139)"/>
<rect x="102.5" y="641.2" width="1.3" height="1.3" fill="rgb(147,147,147)"/>
<rect x="90.8" y="599.8" width="1.0" height="1.0" fill="rgb(192,192,192)"/>
<rect x="93.4" y="614.4" width="1.3" height="1.3" fill="rgb(212,212,212)"/>
<rect x="93.4" y="648.1" width="1.3" height="1.3" fill="rgb(122,122,122)"/>
<rect x="89.7" y="641.1" width="1.6" height="1.6" fill="rgb(175,175,175)"/>
<rect x="98.9" y="651.0" width="1.0" height="1.0" fill="rgb(184,184,184)"/>
<rect x="87.8" y="600.5" width="1.6" height="1.6" fill="rgb(183,183,183)"/>
<rect x="90.4" y="612.6" width="1.3" height="1.3" fill="rgb(206,206,206)"/>
<rect x="85.4" y="611.6" width="1.6" height="1.6" fill="rgb(196,196,196)"/>
<rect x="96.2" y="649.2" width="1.6" height="1.6" fill="rgb(115,115,115)"/>
<rect x="95.2" y="629.8" width="1.3" height="1.3" fill="rgb(150,150,150)"/>
<rect x="81.9" y="650.4" width="1.3" height="1.3" fill="rgb(190,190,190)"/>
<rect x="84.0" y="644.2" width="1.0" height="1.0" fill="rgb(161,161,161)"/>
<rect x="94.5" y="607.3" width="1.0" height="1.0" fill="rgb(213,213,213)"/>
<rect x="99.2" y="637.2" width="1.0" height="1.0" fill="rgb(155,155,155)"/>
<rect x="100.2" y="593.4" width="1.6" height="1.6" fill="rgb(197,197,197)"/>
<rect x="91.7" y="593.6" width="1.3" height="1.3" fill="rgb(193,193,193)"/>
<rect x="91.1" y="612.3" width="1.6" height="1.6" fill="rgb(166,166,166)"/>
<rect x="102.5" y="648.1" width="1.3" height="1.3" fill="rgb(123,123,123)"/>
<rect x="94.2" y="603.2" width="1.0" height="1.0" fill="rgb(207,207,207)"/>
<rect x="99.0" y="591.8" width="1.0" height="1.0" fill="rgb(197,197,197)"/>
<rect x="86.1" y="645.6" width="1.3" height="1.3" fill="rgb(154,154,154)"/>
<rect x="97.3" y="630.2" width="1.3" height="1.3" fill="rgb(166,166,166)"/>
<rect x="97.5" y="621.1" width="1.0" height="1.0" fill="rgb(188,188,188)"/>
<rect x="92.0" y="623.1" width="1.3" height="1.3" fill="rgb(165,165,165)"/>
<rect x="89.7" y="643.4" width="1.3" height="1.3" fill="rgb(158,158,158)"/>
<rect x="89.3" y="646.6" width="1.3" height="1.3" fill="rgb(174,174,174)"/>
<rect x="89.5" y="632.3" width="1.3" height="1.3" fill="rgb(207,207,207)"/>
<rect x="86.3" y="640.8" width="1.0" height="1.0" fill="rgb(137,137,137)"/>
<rect x="89.5" y="635.0" width="1.3" height="1.3" fill="rgb(191,191,191)"/>
<rect x="92.3" y="578.9" width="1.0" height="1.0" fill="rgb(209,209,209)"/>
<rect x="99.2" y="622.9" width="1.6" height="1.6" fill="rgb(208,208,208)"/>
<rect x="93.5" y="644.5" width="1.6" height="1.6" fill="rgb(182,182,182)"/>
<rect x="96.0" y="617.0" width="1.3" height="1.3" fill="rgb(160,160,160)"/>
<rect x="94.8" y="645.2" width="1.6" height="1.6" fill="rgb(199,199,199)"/>
<rect x="88.8" y="643.3" width="1.6" height="1.6" fill="rgb(169,169,169)"/>
<rect x="94.7" y="634.4" width="1.3" height="1.3" fill="rgb(207,207,207)"/>
<rect x="94.0" y="648.1" width="1.3" height="1.3" fill="rgb(140,140,140)"/>
<rect x="94.9" y="648.0" width="1.6" height="1.6" fill="rgb(188,188,188)"/>
<rect x="91.1" y="631.4" width="1.6" height="1.6" fill="rgb(185,185,185)"/>
<rect x="84.4" y="615.0" width="1.6" height="1.6" fill="rgb(173,173,173)"/>
<rect x="92.3" y="638.3" width="1.3" height="1.3" fill="rgb(184,184,184)"/>
<rect x="94.8" y="632.5" width="1.3" height="1.3" fill="rgb(171,171,171)"/>
<rect x="86.6" y="609.6" width="1.3" height="1.3" fill="rgb(194,194,194)"/>
<rect x="95.1" y="635.2" width="1.0" height="1.0" fill="rgb(142,142,142)"/>
<rect x="95.1" y="631.8" width="1.6" height="1.6" fill="rgb(194,194,194)"/>
<rect x="82.9" y="645.7" width="1.6" height="1.6" fill="rgb(121,121,121)"/>
<rect x="84.7" y="621.5" width="1.0" height="1.0" fill="rgb(181,181,181)"/>
<rect x="94.3" y="615.2" width="1.0" height="1.0" fill="rgb(162,162,162)"/>
<rect x="89.5" y="609.2" width="1.0" height="1.0" fill="rgb(184,184,184)"/>
<rect x="100.2" y="625.1" width="1.3" height="1.3" fill="rgb(164,164,164)"/>
<rect x="89.6" y="618.0" width="1.0" height="1.0" fill="rgb(208,208,208)"/>
<rect x="94.9" y="618.5" width="1.3" height="1.3" fill="rgb(214,214,214)"/>
<rect x="86.0" y="640.3" width="1.6" height="1.6" fill="rgb(170,170,170)"/>
<rect x="94.5" y="619.5" width="1.0" height="1.0" fill="rgb(170,170,170)"/>
<rect x="91.2" y="642.3" width="1.3" height="1.3" fill="rgb(131,131,131)"/>
<rect x="82.9" y="640.6" width="1.6" height="1.6" fill="rgb(139,139,139)"/>
<rect x="85.8" y="641.5" width="1.6" height="1.6" fill="rgb(135,135,135)"/>
<rect x="96.1" y="640.6" width="1.3" height="1.3" fill="rgb(157,157,157)"/>
<rect x="83.7" y="627.8" width="1.6" height="1.6" fill="rgb(196,196,196)"/>
<rect x="83.6" y="602.1" width="1.6" height="1.6" fill="rgb(188,188,188)"/>
<rect x="94.5" y="608.4" width="1.3" height="1.3" fill="rgb(176,176,176)"/>
<rect x="86.3" y="629.0" width="1.0" height="1.0" fill="rgb(165,165,165)"/>
<rect x="85.9" y="648.2" width="1.0" height="1.0" fill="rgb(182,182,182)"/>
<rect x="75.6" y="625.3" width="1.6" height="1.6" fill="rgb(212,212,212)"/>
<rect x="91.4" y="613.8" width="1.0" height="1.0" fill="rgb(177,177,177)"/>
<rect x="96.6" y="632.3" width="1.6" height="1.6" fill="rgb(172,172,172)"/>
<rect x="94.9" y="630.1" width="1.3" height="1.3" fill="rgb(213,213,213)"/>
<rect x="78.5" y="632.5" width="1.6" height="1.6" fill="rgb(198,198,198)"/>
<rect x="96.8" y="610.9" width="1.0" height="1.0" fill="rgb(189,189,189)"/>
<rect x="83.8" y="641.8" width="1.3" height="1.3" fill="rgb(192,192,192)"/>
<rect x="85.3" y="626.0" width="1.3" height="1.3" fill="rgb(214,214,214)"/>
<rect x="83.7" y="649.0" width="1.0" height="1.0" fill="rgb(156,156,156)"/>
<rect x="85.0" y="614.3" width="1.6" height="1.6" fill="rgb(175,175,175)"/>
<rect x="107.4" y="651.0" width="1.0" height="1.0" fill="rgb(167,167,167)"/>
<rect x="90.1" y="605.7" width="1.6" height="1.6" fill="rgb(182,182,182)"/>
<rect x="85.6" y="611.7" width="1.0" height="1.0" fill="rgb(174,174,174)"/>
<rect x="83.8" y="623.2" width="1.3" height="1.3" fill="rgb(173,173,173)"/>
<rect x="88.5" y="629.7" width="1.3" height="1.3" fill="rgb(205,205,205)"/>
<rect x="97.1" y="623.3" width="1.3" height="1.3" fill="rgb(158,158,158)"/>
<rect x="83.7" y="640.8" width="1.3" height="1.3" fill="rgb(154,154,154)"/>
<rect x="81.1" y="580.4" width="1.3" height="1.3" fill="rgb(209,209,209)"/>
<rect x="87.8" y="623.5" width="1.6" height="1.6" fill="rgb(182,182,182)"/>
<rect x="86.1" y="637.9" width="1.3" height="1.3" fill="rgb(158,158,158)"/>
<rect x="89.0" y="608.1" width="1.6" height="1.6" fill="rgb(211,211,211)"/>
<rect x="96.6" y="648.6" width="1.0" height="1.0" fill="rgb(136,136,136)"/>
<rect x="86.2" y="632.9" width="1.0" height="1.0" fill="rgb(163,163,163)"/>
<rect x="97.7" y="650.3" width="1.3" height="1.3" fill="rgb(147,147,147)"/>
<rect x="80.1" y="636.6" width="1.3" height="1.3" fill="rgb(199,199,199)"/>
<rect x="85.5" y="622.8" width="1.3" height="1.3" fill="rgb(205,205,205)"/>
<rect x="97.1" y="644.3" width="1.0" height="1.0" fill="rgb(157,157,157)"/>
<rect x="101.7" y="639.2" width="1.6" height="1.6" fill="rgb(136,136,136)"/>
<rect x="93.7" y="646.1" width="1.6" height="1.6" fill="rgb(163,163,163)"/>
<rect x="99.8" y="646.2" width="1.0" height="1.0" fill="rgb(149,149,149)"/>
<rect x="90.1" y="634.1" width="1.3" height="1.3" fill="rgb(203,203,203)"/>
<rect x="94.8" y="634.2" width="1.0" height="1.0" fill="rgb(175,175,175)"/>
<rect x="90.6" y="640.6" width="1.6" height="1.6" fill="rgb(161,161,161)"/>
<rect x="92.7" y="583.0" width="1.3" height="1.3" fill="rgb(205,205,205)"/>
<rect x="85.3" y="640.4" width="1.3" height="1.3" fill="rgb(173,173,173)"/>
<rect x="90.6" y="627.0" width="1.0" height="1.0" fill="rgb(146,146,146)"/>
<rect x="86.0" y="610.6" width="1.0" height="1.0" fill="rgb(214,214,214)"/>
<rect x="97.3" y="639.8" width="1.3" height="1.3" fill="rgb(132,132,132)"/>
<rect x="96.6" y="645.0" width="1.0" height="1.0" fill="rgb(142,142,142)"/>
<rect x="93.1" y="591.8" width="1.6" height="1.6" fill="rgb(198,198,198)"/>
<rect x="96.2" y="605.4" width="1.6" height="1.6" fill="rgb(200,200,200)"/>
<rect x="95.3" y="634.0" width="1.3" height="1.3" fill="rgb(141,141,141)"/>
<rect x="84.2" y="628.0" width="1.3" height="1.3" fill="rgb(155,155,155)"/>
<rect x="93.7" y="623.3" width="1.3" height="1.3" fill="rgb(182,182,182)"/>
<rect x="89.6" y="631.6" width="1.6" height="1.6" fill="rgb(139,139,139)"/>
<rect x="97.3" y="631.0" width="1.0" height="1.0" fill="rgb(205,205,205)"/>
<rect x="88.3" y="620.9" width="1.0" height="1.0" fill="rgb(175,175,175)"/>
<rect x="97.5" y="625.9" width="1.3" height="1.3" fill="rgb(176,176,176)"/>
<rect x="95.2" y="633.6" width="1.0" height="1.0" fill="rgb(214,214,214)"/>
<rect x="92.2" y="645.5" width="1.6" height="1.6" fill="rgb(169,169,169)"/>
<rect x="85.1" y="596.7" width="1.0" height="1.0" fill="rgb(203,203,203)"/>
<rect x="90.5" y="637.4" width="1.6" height="1.6" fill="rgb(155,155,155)"/>
<rect x="92.1" y="647.6" width="1.6" height="1.6" fill="rgb(152,152,152)"/>
<rect x="91.4" y="643.2" width="1.0" height="1.0" fill="rgb(205,205,205)"/>
<rect x="87.9" y="647.3" width="1.0" height="1.0" fill="rgb(123,123,123)"/>
<rect x="91.7" y="624.2" width="1.3" height="1.3" fill="rgb(159,159,159)"/>
<rect x="90.2" y="634.4" width="1.3" height="1.3" fill="rgb(180,180,180)"/>
<rect x="93.8" y="588.4" width="1.6" height="1.6" fill="rgb(204,204,204)"/>
<rect x="98.5" y="649.7" width="1.0" height="1.0" fill="rgb(210,210,210)"/>
<rect x="93.2" y="643.6" width="1.6" height="1.6" fill="rgb(175,175,175)"/>
<rect x="89.5" y="649.1" width="1.6" height="1.6" fill="rgb(175,175,175)"/>
<rect x="90.9" y="651.8" width="1.0" height="1.0" fill="rgb(145,145,145)"/>
<rect x="88.2" y="630.1" width="1.0" height="1.0" fill="rgb(166,166,166)"/>
<rect x="92.1" y="648.3" width="1.3" height="1.3" fill="rgb(152,152,152)"/>
<rect x="89.8" y="582.0" width="1.0" height="1.0" fill="rgb(205,205,205)"/>
<rect x="88.2" y="613.8" width="1.3" height="1.3" fill="rgb(208,208,208)"/>
<rect x="89.9" y="587.6" width="1.0" height="1.0" fill="rgb(202,202,202)"/>
<rect x="85.7" y="649.3" width="1.6" height="1.6" fill="rgb(177,177,177)"/>
<rect x="96.7" y="641.2" width="1.6" height="1.6" fill="rgb(207,207,207)"/>
<rect x="83.0" y="634.2" width="1.6" height="1.6" fill="rgb(174,174,174)"/>
<rect x="90.1" y="649.6" width="1.0" height="1.0" fill="rgb(142,142,142)"/>
<rect x="101.5" y="596.8" width="1.6" height="1.6" fill="rgb(188,188,188)"/>
<rect x="95.3" y="645.3" width="1.0" height="1.0" fill="rgb(145,145,145)"/>
<rect x="93.2" y="650.5" width="1.6" height="1.6" fill="rgb(129,129,129)"/>
<rect x="86.7" y="596.7" width="1.6" height="1.6" fill="rgb(202,202,202)"/>
<rect x="95.2" y="609.4" width="1.0" height="1.0" fill="rgb(169,169,169)"/>
<rect x="85.8" y="623.8" width="1.3" height="1.3" fill="rgb(187,187,187)"/>
<rect x="83.5" y="643.8" width="1.3" height="1.3" fill="rgb(172,172,172)"/>
<rect x="85.7" y="644.0" width="1.6" height="1.6" fill="rgb(209,209,209)"/>
<rect x="88.4" y="640.7" width="1.3" height="1.3" fill="rgb(140,140,140)"/>
<rect x="90.3" y="647.3" width="1.3" height="1.3" fill="rgb(200,200,200)"/>
<rect x="89.5" y="635.5" width="1.0" height="1.0" fill="rgb(134,134,134)"/>
<rect x="87.5" y="624.6" width="1.3" height="1.3" fill="rgb(154,154,154)"/>
<rect x="84.0" y="618.7" width="1.3" height="1.3" fill="rgb(214,214,214)"/>
<rect x="96.9" y="617.6" width="1.0" height="1.0" fill="rgb(170,170,170)"/>
<rect x="100.3" y="619.0" width="1.6" height="1.6" fill="rgb(206,206,206)"/>
<rect x="98.9" y="607.5" width="1.3" height="1.3" fill="rgb(190,190,190)"/>
<rect x="89.0" y="622.8" width="1.6" height="1.6" fill="rgb(209,209,209)"/>
<rect x="83.1" y="630.6" width="1.0" height="1.0" fill="rgb(160,160,160)"/>
<rect x="96.8" y="620.4" width="1.3" height="1.3" fill="rgb(211,211,211)"/>
<rect x="91.7" y="629.6" width="1.3" height="1.3" fill="rgb(159,159,159)"/>
<rect x="94.7" y="629.3" width="1.3" height="1.3" fill="rgb(208,208,208)"/>
<rect x="91.4" y="643.5" width="1.6" height="1.6" fill="rgb(131,131,131)"/>
<rect x="97.5" y="621.2" width="1.0" height="1.0" fill="rgb(183,183,183)"/>
<rect x="91.6" y="611.4" width="1.3" height="1.3" fill="rgb(180,180,180)"/>
<rect x="94.0" y="635.2" width="1.6" height="1.6" fill="rgb(185,185,185)"/>
<rect x="90.8" y="646.8" width="1.0" height="1.0" fill="rgb(166,166,166)"/>
<rect x="102.9" y="624.3" width="1.0" height="1.0" fill="rgb(183,183,183)"/>
<rect x="86.9" y="608.4" width="1.0" height="1.0" fill="rgb(191,191,191)"/>
<rect x="88.1" y="601.6" width="1.6" height="1.6" fill="rgb(207,207,207)"/>
<rect x="86.4" y="630.7" width="1.3" height="1.3" fill="rgb(155,155,155)"/>
<rect x="89.1" y="602.0" width="1.6" height="1.6" fill="rgb(198,198,198)"/>
<rect x="95.3" y="645.4" width="1.0" height="1.0" fill="rgb(211,211,211)"/>
<rect x="89.3" y="651.8" width="1.0" height="1.0" fill="rgb(175,175,175)"/>
<rect x="82.5" y="595.2" width="1.0" height="1.0" fill="rgb(202,202,202)"/>
<rect x="85.9" y="647.1" width="1.0" height="1.0" fill="rgb(152,152,152)"/>
<rect x="95.1" y="640.9" width="1.0" height="1.0" fill="rgb(194,194,194)"/>
<rect x="93.6" y="650.5" width="1.3" height="1.3" fill="rgb(146,146,146)"/>
<rect x="93.3" y="610.8" width="1.6" height="1.6" fill="rgb(203,203,203)"/>
<rect x="86.6" y="614.1" width="1.3" height="1.3" fill="rgb(212,212,212)"/>
<rect x="98.3" y="649.9" width="1.0" height="1.0" fill="rgb(212,212,212)"/>
<rect x="92.9" y="616.8" width="1.6" height="1.6" fill="rgb(185,185,185)"/>
<rect x="92.5" y="638.3" width="1.0" height="1.0" fill="rgb(202,202,202)"/>
<rect x="90.3" y="649.9" width="1.3" height="1.3" fill="rgb(145,145,145)"/>
<rect x="82.4" y="635.7" width="1.3" height="1.3" fill="rgb(176,176,176)"/>
<rect x="93.2" y="616.8" width="1.3" height="1.3" fill="rgb(207,207,207)"/>
<rect x="81.2" y="624.8" width="1.0" height="1.0" fill="rgb(152,152,152)"/>
<rect x="94.2" y="629.7" width="1.0" height="1.0" fill="rgb(146,146,146)"/>
<rect x="91.5" y="608.5" width="1.3" height="1.3" fill="rgb(186,186,186)"/>
<rect x="88.2" y="648.0" width="1.3" height="1.3" fill="rgb(201,201,201)"/>
<rect x="96.3" y="650.5" width="1.0" height="1.0" fill="rgb(212,212,212)"/>
<rect x="88.0" y="628.9" width="1.0" height="1.0" fill="rgb(190,190,190)"/>
<rect x="88.3" y="630.2" width="1.0" height="1.0" fill="rgb(198,198,198)"/>
<rect x="88.5" y="610.6" width="1.0" height="1.0" fill="rgb(193,193,193)"/>
<rect x="94.0" y="628.2" width="1.0" height="1.0" fill="rgb(197,197,197)"/>
<rect x="94.9" y="617.8" width="1.3" height="1.3" fill="rgb(166,166,166)"/>
<rect x="90.3" y="644.8" width="1.3" height="1.3" fill="rgb(171,171,171)"/>
<rect x="92.7" y="604.0" width="1.0" height="1.0" fill="rgb(176,176,176)"/>
<rect x="93.7" y="637.6" width="1.3" height="1.3" fill="rgb(167,167,167)"/>
<rect x="80.3" y="604.6" width="1.3" height="1.3" fill="rgb(184,184,184)"/>
<rect x="90.2" y="627.8" width="1.3" height="1.3" fill="rgb(197,197,197)"/>
<rect x="94.4" y="619.1" width="1.0" height="1.0" fill="rgb(161,161,161)"/>
<rect x="94.0" y="645.9" width="1.3" height="1.3" fill="rgb(153,153,153)"/>
<rect x="90.0" y="644.9" width="1.0" height="1.0" fill="rgb(182,182,182)"/>
<rect x="93.8" y="628.4" width="1.3" height="1.3" fill="rgb(194,194,194)"/>
<rect x="77.4" y="628.0" width="1.0" height="1.0" fill="rgb(149,149,149)"/>
<rect x="94.7" y="618.2" width="1.0" height="1.0" fill="rgb(184,184,184)"/>
<rect x="101.3" y="641.1" width="1.0" height="1.0" fill="rgb(197,197,197)"/>
<rect x="98.5" y="645.8" width="1.0" height="1.0" fill="rgb(141,141,141)"/>
<rect x="85.3" y="612.8" width="1.6" height="1.6" fill="rgb(183,183,183)"/>
<rect x="92.3" y="637.5" width="1.6" height="1.6" fill="rgb(214,214,214)"/>
<rect x="95.5" y="641.9" width="1.6" height="1.6" fill="rgb(177,177,177)"/>
<rect x="84.5" y="649.0" width="1.6" height="1.6" fill="rgb(186,186,186)"/>
<rect x="89.8" y="647.1" width="1.0" height="1.0" fill="rgb(166,166,166)"/>
<rect x="90.7" y="626.5" width="1.0" height="1.0" fill="rgb(168,168,168)"/>
<rect x="87.9" y="611.1" width="1.3" height="1.3" fill="rgb(174,174,174)"/>
<rect x="88.9" y="592.4" width="1.3" height="1.3" fill="rgb(194,194,194)"/>
<rect x="83.2" y="632.4" width="1.6" height="1.6" fill="rgb(180,180,180)"/>
<rect x="88.5" y="598.5" width="1.3" height="1.3" fill="rgb(188,188,188)"/>
<rect x="94.2" y="643.8" width="1.6" height="1.6" fill="rgb(133,133,133)"/>
<rect x="102.3" y="642.7" width="1.3" height="1.3" fill="rgb(126,126,126)"/>
<rect x="94.8" y="628.6" width="1.6" height="1.6" fill="rgb(213,213,213)"/>
<rect x="90.6" y="606.2" width="1.0" height="1.0" fill="rgb(188,188,188)"/>
<rect x="92.4" y="602.6" width="1.0" height="1.0" fill="rgb(205,205,205)"/>
<rect x="96.2" y="588.1" width="1.6" height="1.6" fill="rgb(210,210,210)"/>
<rect x="86.1" y="637.8" width="1.0" height="1.0" fill="rgb(175,175,175)"/>
<rect x="100.5" y="640.7" width="1.0" height="1.0" fill="rgb(150,150,150)"/>
<rect x="96.8" y="617.9" width="1.6" height="1.6" fill="rgb(187,187,187)"/>
<rect x="90.0" y="631.4" width="1.0" height="1.0" fill="rgb(183,183,183)"/>
<rect x="93.4" y="633.4" width="1.0" height="1.0" fill="rgb(196,196,196)"/>
<rect x="83.5" y="607.5" width="1.0" height="1.0" fill="rgb(207,207,207)"/>
<rect x="85.7" y="649.8" width="1.3" height="1.3" fill="rgb(175,175,175)"/>
<rect x="89.2" y="636.1" width="1.0" height="1.0" fill="rgb(134,134,134)"/>
<rect x="89.5" y="643.7" width="1.0" height="1.0" fill="rgb(183,183,183)"/>
<rect x="87.8" y="646.1" width="1.3" height="1.3" fill="rgb(160,160,160)"/>
<rect x="78.5" y="645.2" width="1.0" height="1.0" fill="rgb(133,133,133)"/>
<rect x="95.4" y="621.4" width="1.3" height="1.3" fill="rgb(192,192,192)"/>
<rect x="97.8" y="639.0" width="1.0" height="1.0" fill="rgb(213,213,213)"/>
<rect x="96.1" y="632.9" width="1.0" height="1.0" fill="rgb(175,175,175)"/>
<rect x="92.8" y="614.4" width="1.3" height="1.3" fill="rgb(192,192,192)"/>
<rect x="98.7" y="643.7" width="1.0" height="1.0" fill="rgb(139,139,139)"/>
<rect x="88.3" y="591.9" width="1.3" height="1.3" fill="rgb(200,200,200)"/>
<rect x="83.9" y="649.1" width="1.0" height="1.0" fill="rgb(133,133,133)"/>
<rect x="84.6" y="637.2" width="1.6" height="1.6" fill="rgb(193,193,193)"/>
<rect x="90.6" y="586.2" width="1.3" height="1.3" fill="rgb(213,213,213)"/>
<rect x="92.2" y="638.3" width="1.6" height="1.6" fill="rgb(204,204,204)"/>
<rect x="103.0" y="650.6" width="1.6" height="1.6" fill="rgb(206,206,206)"/>
<rect x="84.5" y="633.1" width="1.0" height="1.0" fill="rgb(203,203,203)"/>
<rect x="100.2" y="632.0" width="1.3" height="1.3" fill="rgb(170,170,170)"/>
<rect x="83.0" y="615.8" width="1.6" height="1.6" fill="rgb(210,210,210)"/>
<rect x="82.8" y="618.9" width="1.3" height="1.3" fill="rgb(201,201,201)"/>
<rect x="92.7" y="612.4" width="1.3" height="1.3" fill="rgb(178,178,178)"/>
<rect x="88.0" y="648.1" width="1.0" height="1.0" fill="rgb(133,133,133)"/>
<rect x="96.0" y="615.7" width="1.6" height="1.6" fill="rgb(202,202,202)"/>
<rect x="96.3" y="633.6" width="1.0" height="1.0" fill="rgb(141,141,141)"/>
<rect x="89.3" y="647.0" width="1.6" height="1.6" fill="rgb(191,191,191)"/>
<rect x="89.1" y="621.5" width="1.0" height="1.0" fill="rgb(201,201,201)"/>
<rect x="103.3" y="643.5" width="1.0" height="1.0" fill="rgb(200,200,200)"/>
<rect x="85.4" y="636.5" width="1.3" height="1.3" fill="rgb(171,171,171)"/>
<rect x="97.0" y="623.3" width="1.6" height="1.6" fill="rgb(164,164,164)"/>
<rect x="98.5" y="614.4" width="1.3" height="1.3" fill="rgb(206,206,206)"/>
<rect x="88.0" y="639.2" width="1.0" height="1.0" fill="rgb(202,202,202)"/>
<rect x="97.1" y="636.9" width="1.6" height="1.6" fill="rgb(171,171,171)"/>
<rect x="80.8" y="646.8" width="1.3" height="1.3" fill="rgb(124,124,124)"/>
<rect x="85.5" y="617.6" width="1.3" height="1.3" fill="rgb(174,174,174)"/>
<rect x="83.8" y="647.4" width="1.6" height="1.6" fill="rgb(214,214,214)"/>
<rect x="75.2" y="635.5" width="1.3" height="1.3" fill="rgb(167,167,167)"/>
<rect x="90.7" y="646.6" width="1.6" height="1.6" fill="rgb(187,187,187)"/>
<rect x="85.7" y="636.5" width="1.6" height="1.6" fill="rgb(176,176,176)"/>
<rect x="94.6" y="623.2" width="1.6" height="1.6" fill="rgb(191,191,191)"/>
<rect x="86.6" y="634.1" width="1.3" height="1.3" fill="rgb(151,151,151)"/>
<rect x="93.7" y="624.9" width="1.6" height="1.6" fill="rgb(194,194,194)"/>
<rect x="94.7" y="620.1" width="1.0" height="1.0" fill="rgb(179,179,179)"/>
<rect x="97.1" y="645.5" width="1.6" height="1.6" fill="rgb(183,183,183)"/>
<rect x="94.7" y="646.1" width="1.0" height="1.0" fill="rgb(173,173,173)"/>
<rect x="89.8" y="589.8" width="1.3" height="1.3" fill="rgb(209,209,209)"/>
<rect x="86.1" y="619.8" width="1.3" height="1.3" fill="rgb(177,177,177)"/>
<rect x="89.4" y="632.2" width="1.6" height="1.6" fill="rgb(174,174,174)"/>
<rect x="88.9" y="627.7" width="1.3" height="1.3" fill="rgb(166,166,166)"/>
<rect x="90.9" y="650.2" width="1.6" height="1.6" fill="rgb(145,145,145)"/>
<rect x="85.5" y="614.7" width="1.6" height="1.6" fill="rgb(179,179,179)"/>
<rect x="93.5" y="608.2" width="1.3" height="1.3" fill="rgb(206,206,206)"/>
<rect x="83.0" y="630.7" width="1.3" height="1.3" fill="rgb(139,139,139)"/>
<rect x="93.7" y="640.2" width="1.0" height="1.0" fill="rgb(148,148,148)"/>
<rect x="84.9" y="609.8" width="1.6" height="1.6" fill="rgb(175,175,175)"/>
<rect x="102.7" y="610.2" width="1.3" height="1.3" fill="rgb(183,183,183)"/>
<rect x="98.5" y="640.2" width="1.3" height="1.3" fill="rgb(136,136,136)"/>
<rect x="73.9" y="637.6" width="1.6" height="1.6" fill="rgb(170,170,170)"/>
<rect x="94.5" y="613.0" width="1.6" height="1.6" fill="rgb(211,211,211)"/>
<rect x="86.7" y="636.3" width="1.6" height="1.6" fill="rgb(185,185,185)"/>
<rect x="96.5" y="637.8" width="1.3" height="1.3" fill="rgb(147,147,147)"/>
<rect x="92.2" y="641.0" width="1.3" height="1.3" fill="rgb(165,165,165)"/>
<rect x="91.3" y="625.8" width="1.0" height="1.0" fill="rgb(212,212,212)"/>
<rect x="91.1" y="631.3" width="1.3" height="1.3" fill="rgb(172,172,172)"/>
<rect x="96.7" y="647.4" width="1.0" height="1.0" fill="rgb(200,200,200)"/>
<rect x="86.4" y="626.6" width="1.0" height="1.0" fill="rgb(206,206,206)"/>
<rect x="89.1" y="632.3" width="1.6" height="1.6" fill="rgb(209,209,209)"/>
<rect x="90.4" y="630.9" width="1.3" height="1.3" fill="rgb(179,179,179)"/>
<rect x="91.4" y="644.9" width="1.3" height="1.3" fill="rgb(141,141,141)"/>
<rect x="90.8" y="607.2" width="1.3" height="1.3" fill="rgb(204,204,204)"/>
<rect x="90.3" y="609.6" width="1.6" height="1.6" fill="rgb(172,172,172)"/>
<rect x="92.5" y="597.2" width="1.6" height="1.6" fill="rgb(209,209,209)"/>
<rect x="101.4" y="625.2" width="1.0" height="1.0" fill="rgb(175,175,175)"/>
<rect x="94.5" y="628.2" width="1.0" height="1.0" fill="rgb(170,170,170)"/>
<rect x="94.1" y="614.2" width="1.0" height="1.0" fill="rgb(205,205,205)"/>
<rect x="97.8" y="648.4" width="1.3" height="1.3" fill="rgb(133,133,133)"/>
<rect x="90.4" y="627.0" width="1.0" height="1.0" fill="rgb(145,145,145)"/>
<rect x="101.1" y="615.7" width="1.6" height="1.6" fill="rgb(193,193,193)"/>
<rect x="85.4" y="635.5" width="1.0" height="1.0" fill="rgb(156,156,156)"/>
<rect x="93.8" y="644.4" width="1.0" height="1.0" fill="rgb(191,191,191)"/>
<rect x="90.1" y="609.7" width="1.3" height="1.3" fill="rgb(173,173,173)"/>
<rect x="91.0" y="634.4" width="1.6" height="1.6" fill="rgb(205,205,205)"/>
<rect x="85.7" y="647.4" width="1.3" height="1.3" fill="rgb(120,120,120)"/>
<rect x="98.5" y="645.6" width="1.0" height="1.0" fill="rgb(181,181,181)"/>
<rect x="85.5" y="625.3" width="1.3" height="1.3" fill="rgb(185,185,185)"/>
<rect x="91.7" y="639.1" width="1.0" height="1.0" fill="rgb(185,185,185)"/>
<rect x="92.8" y="615.6" width="1.0" height="1.0" fill="rgb(184,184,184)"/>
<rect x="93.3" y="634.1" width="1.0" height="1.0" fill="rgb(177,177,177)"/>
<rect x="85.9" y="608.7" width="1.6" height="1.6" fill="rgb(197,197,197)"/>
<rect x="96.9" y="613.0" width="1.6" height="1.6" fill="rgb(165,165,165)"/>
<rect x="95.2" y="612.7" width="1.3" height="1.3" fill="rgb(166,166,166)"/>
<rect x="83.5" y="636.0" width="1.3" height="1.3" fill="rgb(178,178,178)"/>
<rect x="84.7" y="633.1" width="1.0" height="1.0" fill="rgb(205,205,205)"/>
<rect x="94.7" y="639.6" width="1.3" height="1.3" fill="rgb(206,206,206)"/>
<rect x="90.6" y="642.1" width="1.0" height="1.0" fill="rgb(149,149,149)"/>
<rect x="89.2" y="620.5" width="1.0" height="1.0" fill="rgb(190,190,190)"/>
<rect x="91.2" y="640.4" width="1.0" height="1.0" fill="rgb(198,198,198)"/>
<rect x="87.4" y="598.0" width="1.6" height="1.6" fill="rgb(186,186,186)"/>
<rect x="94.0" y="643.0" width="1.3" height="1.3" fill="rgb(206,206,206)"/>
<rect x="97.4" y="605.3" width="1.3" height="1.3" fill="rgb(185,185,185)"/>
<rect x="93.9" y="623.4" width="1.6" height="1.6" fill="rgb(173,173,173)"/>
<rect x="84.5" y="647.0" width="1.3" height="1.3" fill="rgb(202,202,202)"/>
<rect x="84.7" y="610.3" width="1.3" height="1.3" fill="rgb(181,181,181)"/>
<rect x="95.8" y="589.7" width="1.3" height="1.3" fill="rgb(200,200,200)"/>
<rect x="93.2" y="616.1" width="1.0" height="1.0" fill="rgb(179,179,179)"/>
<rect x="86.5" y="619.2" width="1.6" height="1.6" fill="rgb(198,198,198)"/>
<rect x="90.1" y="642.0" width="1.0" height="1.0" fill="rgb(211,211,211)"/>
<rect x="88.9" y="627.7" width="1.0" height="1.0" fill="rgb(160,160,160)"/>
<rect x="95.1" y="624.9" width="1.0" height="1.0" fill="rgb(171,171,171)"/>
<rect x="91.7" y="634.5" width="1.3" height="1.3" fill="rgb(196,196,196)"/>
<rect x="90.3" y="641.3" width="1.3" height="1.3" fill="rgb(153,153,153)"/>
<rect x="97.5" y="649.7" width="1.6" height="1.6" fill="rgb(203,203,203)"/>
<rect x="100.4" y="618.9" width="1.0" height="1.0" fill="rgb(178,178,178)"/>
<rect x="94.0" y="651.1" width="1.0" height="1.0" fill="rgb(144,144,144)"/>
<rect x="94.0" y="644.3" width="1.0" height="1.0" fill="rgb(144,144,144)"/>
<rect x="102.5" y="627.0" width="1.6" height="1.6" fill="rgb(162,162,162)"/>
<rect x="91.8" y="636.9" width="1.3" height="1.3" fill="rgb(185,185,185)"/>
<rect x="97.3" y="628.4" width="1.6" height="1.6" fill="rgb(190,190,190)"/>
<rect x="94.7" y="642.2" width="1.0" height="1.0" fill="rgb(173,173,173)"/>
<rect x="82.9" y="639.6" width="1.6" height="1.6" fill="rgb(196,196,196)"/>
<rect x="93.2" y="632.0" width="1.0" height="1.0" fill="rgb(155,155,155)"/>
<rect x="89.0" y="650.3" width="1.6" height="1.6" fill="rgb(130,130,130)"/>
<rect x="77.5" y="617.1" width="1.6" height="1.6" fill="rgb(178,178,178)"/>
<rect x="86.6" y="617.0" width="1.0" height="1.0" fill="rgb(159,159,159)"/>
<rect x="87.4" y="623.5" width="1.0" height="1.0" fill="rgb(194,194,194)"/>
<rect x="92.7" y="640.0" width="1.3" height="1.3" fill="rgb(171,171,171)"/>
<rect x="90.8" y="615.4" width="1.6" height="1.6" fill="rgb(190,190,190)"/>
<rect x="97.0" y="623.1" width="1.6" height="1.6" fill="rgb(195,195,195)"/>
<rect x="86.6" y="607.0" width="1.6" height="1.6" fill="rgb(179,179,179)"/>
<rect x="88.5" y="627.4" width="1.6" height="1.6" fill="rgb(147,147,147)"/>
<rect x="85.0" y="639.2" width="1.0" height="1.0" fill="rgb(147,147,147)"/>
<rect x="87.5" y="604.0" width="1.3" height="1.3" fill="rgb(203,203,203)"/>
<rect x="102.3" y="630.7" width="1.0" height="1.0" fill="rgb(191,191,191)"/>
<rect x="94.0" y="640.7" width="1.0" height="1.0" fill="rgb(174,174,174)"/>
<rect x="84.6" y="608.9" width="1.6" height="1.6" fill="rgb(201,201,201)"/>
<rect x="92.4" y="598.5" width="1.3" height="1.3" fill="rgb(214,214,214)"/>
<rect x="88.0" y="600.3" width="1.0" height="1.0" fill="rgb(195,195,195)"/>
<rect x="73.9" y="638.2" width="1.3" height="1.3" fill="rgb(132,132,132)"/>
<rect x="89.9" y="611.5" width="1.6" height="1.6" fill="rgb(169,169,169)"/>
<rect x="90.3" y="618.8" width="1.6" height="1.6" fill="rgb(178,178,178)"/>
<rect x="90.5" y="638.5" width="1.0" height="1.0" fill="rgb(202,202,202)"/>
<rect x="93.5" y="589.7" width="1.0" height="1.0" fill="rgb(207,207,207)"/>
<rect x="93.4" y="619.5" width="1.6" height="1.6" fill="rgb(163,163,163)"/>
<rect x="96.8" y="609.5" width="1.3" height="1.3" fill="rgb(178,178,178)"/>
<rect x="88.7" y="642.3" width="1.3" height="1.3" fill="rgb(139,139,139)"/>
<rect x="93.4" y="614.8" width="1.3" height="1.3" fill="rgb(207,207,207)"/>
<rect x="90.5" y="646.1" width="1.6" height="1.6" fill="rgb(204,204,204)"/>
<rect x="92.8" y="649.2" width="1.3" height="1.3" fill="rgb(113,113,113)"/>
<rect x="97.7" y="648.6" width="1.0" height="1.0" fill="rgb(164,164,164)"/>
<rect x="87.9" y="651.8" width="1.6" height="1.6" fill="rgb(151,151,151)"/>
<rect x="89.5" y="599.7" width="1.3" height="1.3" fill="rgb(200,200,200)"/>
<rect x="88.0" y="601.0" width="1.3" height="1.3" fill="rgb(213,213,213)"/>
<rect x="91.6" y="630.3" width="1.6" height="1.6" fill="rgb(212,212,212)"/>
<rect x="96.6" y="646.8" width="1.3" height="1.3" fill="rgb(137,137,137)"/>
<rect x="91.9" y="607.1" width="1.3" height="1.3" fill="rgb(183,183,183)"/>
<rect x="91.1" y="597.1" width="1.0" height="1.0" fill="rgb(214,214,214)"/>
<rect x="93.3" y="648.6" width="1.6" height="1.6" fill="rgb(170,170,170)"/>
<rect x="94.9" y="639.5" width="1.3" height="1.3" fill="rgb(165,165,165)"/>
<rect x="88.3" y="600.4" width="1.6" height="1.6" fill="rgb(181,181,181)"/>
<rect x="96.9" y="647.2" width="1.6" height="1.6" fill="rgb(119,119,119)"/>
<rect x="91.3" y="637.1" width="1.6" height="1.6" fill="rgb(157,157,157)"/>
<rect x="88.5" y="638.8" width="1.3" height="1.3" fill="rgb(165,165,165)"/>
<rect x="81.0" y="650.3" width="1.3" height="1.3" fill="rgb(184,184,184)"/>
<rect x="91.5" y="632.9" width="1.0" height="1.0" fill="rgb(164,164,164)"/>
<rect x="90.0" y="614.2" width="1.6" height="1.6" fill="rgb(207,207,207)"/>
<rect x="82.1" y="624.3" width="1.3" height="1.3" fill="rgb(175,175,175)"/>
<rect x="90.9" y="623.6" width="1.0" height="1.0" fill="rgb(197,197,197)"/>
<rect x="95.8" y="610.6" width="1.6" height="1.6" fill="rgb(171,171,171)"/>
<rect x="92.6" y="642.6" width="1.0" height="1.0" fill="rgb(155,155,155)"/>
<rect x="101.4" y="632.9" width="1.3" height="1.3" fill="rgb(195,195,195)"/>
<rect x="84.4" y="614.5" width="1.6" height="1.6" fill="rgb(177,177,177)"/>
<rect x="92.4" y="632.0" width="1.0" height="1.0" fill="rgb(169,169,169)"/>
<rect x="85.5" y="646.6" width="1.6" height="1.6" fill="rgb(201,201,201)"/>
<rect x="81.0" y="633.9" width="1.0" height="1.0" fill="rgb(157,157,157)"/>
<rect x="97.5" y="637.4" width="1.6" height="1.6" fill="rgb(175,175,175)"/>
<rect x="88.9" y="625.5" width="1.0" height="1.0" fill="rgb(203,203,203)"/>
<rect x="91.0" y="634.5" width="1.0" height="1.0" fill="rgb(152,152,152)"/>
<rect x="87.5" y="626.2" width="1.0" height="1.0" fill="rgb(211,211,211)"/>
<rect x="88.3" y="586.7" width="1.6" height="1.6" fill="rgb(210,210,210)"/>
<rect x="88.7" y="606.3" width="1.0" height="1.0" fill="rgb(176,176,176)"/>
<rect x="95.9" y="637.1" width="1.3" height="1.3" fill="rgb(137,137,137)"/>
<rect x="86.0" y="609.5" width="1.3" height="1.3" fill="rgb(179,179,179)"/>
<rect x="90.4" y="644.8" width="1.0" height="1.0" fill="rgb(190,190,190)"/>
<rect x="89.7" y="624.4" width="1.3" height="1.3" fill="rgb(165,165,165)"/>
<rect x="98.6" y="641.5" width="1.6" height="1.6" fill="rgb(205,205,205)"/>
<rect x="92.5" y="621.6" width="1.0" height="1.0" fill="rgb(176,176,176)"/>
<rect x="88.2" y="649.4" width="1.3" height="1.3" fill="rgb(195,195,195)"/>
<rect x="87.8" y="588.6" width="1.3" height="1.3" fill="rgb(196,196,196)"/>
<rect x="246.2" y="457.3" width="1.0" height="1.0" fill="rgb(202,202,202)"/>
<rect x="244.3" y="458.0" width="1.6" height="1.6" fill="rgb(195,195,195)"/>
<rect x="248.2" y="463.7" width="1.6" height="1.6" fill="rgb(209,209,209)"/>
<rect x="236.8" y="464.4" width="1.3" height="1.3" fill="rgb(207,207,207)"/>
<rect x="242.8" y="454.0" width="1.0" height="1.0" fill="rgb(219,219,219)"/>
<rect x="247.0" y="464.7" width="1.0" height="1.0" fill="rgb(222,222,222)"/>
<rect x="239.0" y="463.3" width="1.0" height="1.0" fill="rgb(173,173,173)"/>
<rect x="237.4" y="463.9" width="1.0" height="1.0" fill="rgb(196,196,196)"/>
<rect x="242.0" y="465.2" width="1.0" height="1.0" fill="rgb(201,201,201)"/>
<rect x="242.6" y="460.3" width="1.6" height="1.6" fill="rgb(219,219,219)"/>
<rect x="245.9" y="455.4" width="1.6" height="1.6" fill="rgb(216,216,216)"/>
<rect x="248.7" y="462.0" width="1.3" height="1.3" fill="rgb(175,175,175)"/>
<rect x="241.1" y="453.4" width="1.3" height="1.3" fill="rgb(224,224,224)"/>
<rect x="241.2" y="465.2" width="1.6" height="1.6" fill="rgb(181,181,181)"/>
<rect x="242.2" y="457.9" width="1.6" height="1.6" fill="rgb(216,216,216)"/>
<rect x="239.3" y="465.9" width="1.6" height="1.6" fill="rgb(198,198,198)"/>
<rect x="261.5" y="462.5" width="1.6" height="1.6" fill="rgb(223,223,223)"/>
<rect x="238.6" y="465.4" width="1.0" height="1.0" fill="rgb(218,218,218)"/>
<rect x="238.0" y="464.5" width="1.3" height="1.3" fill="rgb(200,200,200)"/>
<rect x="237.3" y="464.6" width="1.0" height="1.0" fill="rgb(208,208,208)"/>
<rect x="240.5" y="463.8" width="1.6" height="1.6" fill="rgb(178,178,178)"/>
<rect x="254.3" y="465.0" width="1.6" height="1.6" fill="rgb(207,207,207)"/>
<rect x="239.1" y="464.0" width="1.3" height="1.3" fill="rgb(181,181,181)"/>
<rect x="251.8" y="462.3" width="1.0" height="1.0" fill="rgb(175,175,175)"/>
<rect x="246.6" y="466.0" width="1.6" height="1.6" fill="rgb(158,158,158)"/>
<rect x="247.1" y="461.8" width="1.6" height="1.6" fill="rgb(201,201,201)"/>
<rect x="251.6" y="464.5" width="1.6" height="1.6" fill="rgb(215,215,215)"/>
<rect x="241.0" y="460.2" width="1.6" height="1.6" fill="rgb(192,192,192)"/>
<rect x="246.3" y="463.6" width="1.0" height="1.0" fill="rgb(213,213,213)"/>
<rect x="243.5" y="463.0" width="1.3" height="1.3" fill="rgb(207,207,207)"/>
<rect x="236.9" y="465.9" width="1.0" height="1.0" fill="rgb(193,193,193)"/>
<rect x="252.7" y="464.9" width="1.0" height="1.0" fill="rgb(202,202,202)"/>
<rect x="243.9" y="459.8" width="1.3" height="1.3" fill="rgb(218,218,218)"/>
<rect x="245.1" y="459.3" width="1.0" height="1.0" fill="rgb(224,224,224)"/>
<rect x="246.3" y="461.3" width="1.6" height="1.6" fill="rgb(182,182,182)"/>
<rect x="249.8" y="457.0" width="1.0" height="1.0" fill="rgb(218,218,218)"/>
<rect x="241.8" y="465.8" width="1.6" height="1.6" fill="rgb(165,165,165)"/>
<rect x="242.7" y="460.6" width="1.0" height="1.0" fill="rgb(218,218,218)"/>
<rect x="243.4" y="459.8" width="1.0" height="1.0" fill="rgb(211,211,211)"/>
<rect x="243.3" y="459.0" width="1.6" height="1.6" fill="rgb(212,212,212)"/>
<rect x="391.5" y="453.2" width="1.0" height="1.0" fill="rgb(213,213,213)"/>
<rect x="397.5" y="454.4" width="1.0" height="1.0" fill="rgb(216,216,216)"/>
<rect x="391.2" y="455.3" width="1.3" height="1.3" fill="rgb(200,200,200)"/>
<rect x="391.2" y="458.7" width="1.0" height="1.0" fill="rgb(206,206,206)"/>
<rect x="394.6" y="453.1" width="1.3" height="1.3" fill="rgb(220,220,220)"/>
<rect x="405.0" y="462.8" width="1.3" height="1.3" fill="rgb(181,181,181)"/>
<rect x="400.3" y="456.9" width="1.0" height="1.0" fill="rgb(207,207,207)"/>
<rect x="397.4" y="460.1" width="1.3" height="1.3" fill="rgb(207,207,207)"/>
<rect x="390.7" y="462.1" width="1.6" height="1.6" fill="rgb(187,187,187)"/>
<rect x="393.0" y="462.5" width="1.6" height="1.6" fill="rgb(211,211,211)"/>
<rect x="394.9" y="458.7" width="1.3" height="1.3" fill="rgb(193,193,193)"/>
<rect x="387.0" y="463.2" width="1.6" height="1.6" fill="rgb(191,191,191)"/>
<rect x="395.8" y="461.2" width="1.0" height="1.0" fill="rgb(175,175,175)"/>
<rect x="403.1" y="458.6" width="1.0" height="1.0" fill="rgb(202,202,202)"/>
<rect x="397.9" y="463.2" width="1.0" height="1.0" fill="rgb(163,163,163)"/>
<rect x="391.8" y="460.6" width="1.0" height="1.0" fill="rgb(176,176,176)"/>
<rect x="402.4" y="462.9" width="1.0" height="1.0" fill="rgb(212,212,212)"/>
<rect x="401.5" y="458.7" width="1.6" height="1.6" fill="rgb(200,200,200)"/>
<rect x="400.4" y="456.8" width="1.0" height="1.0" fill="rgb(195,195,195)"/>
<rect x="405.6" y="462.0" width="1.6" height="1.6" fill="rgb(205,205,205)"/>
<rect x="403.0" y="458.5" width="1.3" height="1.3" fill="rgb(199,199,199)"/>
<rect x="396.2" y="465.3" width="1.0" height="1.0" fill="rgb(197,197,197)"/>
<rect x="399.1" y="459.6" width="1.0" height="1.0" fill="rgb(191,191,191)"/>
<rect x="395.3" y="464.5" width="1.6" height="1.6" fill="rgb(162,162,162)"/>
<rect x="404.7" y="465.0" width="1.3" height="1.3" fill="rgb(196,196,196)"/>
<rect x="400.1" y="465.6" width="1.0" height="1.0" fill="rgb(179,179,179)"/>
<rect x="403.3" y="453.3" width="1.3" height="1.3" fill="rgb(221,221,221)"/>
<rect x="398.0" y="457.8" width="1.6" height="1.6" fill="rgb(197,197,197)"/>
<rect x="401.4" y="459.0" width="1.0" height="1.0" fill="rgb(183,183,183)"/>
<rect x="392.4" y="461.5" width="1.3" height="1.3" fill="rgb(174,174,174)"/>
<rect x="400.6" y="465.7" width="1.0" height="1.0" fill="rgb(218,218,218)"/>
<rect x="400.7" y="461.6" width="1.0" height="1.0" fill="rgb(176,176,176)"/>
<rect x="386.7" y="459.6" width="1.0" height="1.0" fill="rgb(215,215,215)"/>
<rect x="386.6" y="465.1" width="1.6" height="1.6" fill="rgb(210,210,210)"/>
<rect x="399.0" y="460.1" width="1.0" height="1.0" fill="rgb(216,216,216)"/>
<rect x="383.9" y="466.0" width="1.0" height="1.0" fill="rgb(202,202,202)"/>
<rect x="405.1" y="464.5" width="1.3" height="1.3" fill="rgb(215,215,215)"/>
<rect x="405.6" y="456.8" width="1.0" height="1.0" fill="rgb(201,201,201)"/>
<rect x="390.9" y="464.1" width="1.6" height="1.6" fill="rgb(197,197,197)"/>
<rect x="398.5" y="465.4" width="1.3" height="1.3" fill="rgb(173,173,173)"/>
<rect x="107.7" y="526.7" width="1.2" height="1.2" fill="rgb(167,167,167)"/>
<rect x="95.2" y="509.5" width="1.2" height="1.2" fill="rgb(152,152,152)"/>
<rect x="71.6" y="528.4" width="1.2" height="1.2" fill="rgb(182,182,182)"/>
<rect x="104.0" y="540.1" width="1.2" height="1.2" fill="rgb(224,224,224)"/>
<rect x="81.7" y="548.1" width="1.2" height="1.2" fill="rgb(159,159,159)"/>
<rect x="71.9" y="530.5" width="1.2" height="1.2" fill="rgb(182,182,182)"/>
<rect x="98.6" y="547.2" width="1.2" height="1.2" fill="rgb(161,161,161)"/>
<rect x="88.6" y="509.4" width="1.2" height="1.2" fill="rgb(158,158,158)"/>
<rect x="78.3" y="544.6" width="1.2" height="1.2" fill="rgb(218,218,218)"/>
<rect x="79.2" y="544.2" width="1.2" height="1.2" fill="rgb(222,222,222)"/>
<rect x="104.9" y="515.4" width="1.2" height="1.2" fill="rgb(170,170,170)"/>
<rect x="98.2" y="545.9" width="1.2" height="1.2" fill="rgb(155,155,155)"/>
<rect x="108.6" y="534.3" width="1.2" height="1.2" fill="rgb(180,180,180)"/>
<rect x="72.3" y="522.3" width="1.2" height="1.2" fill="rgb(150,150,150)"/>
<rect x="82.5" y="510.4" width="1.2" height="1.2" fill="rgb(190,190,190)"/>
<rect x="71.0" y="522.9" width="1.2" height="1.2" fill="rgb(223,223,223)"/>
<rect x="104.1" y="514.5" width="1.2" height="1.2" fill="rgb(179,179,179)"/>
<rect x="82.1" y="546.6" width="1.2" height="1.2" fill="rgb(222,222,222)"/>
<rect x="75.6" y="541.5" width="1.2" height="1.2" fill="rgb(180,180,180)"/>
<rect x="103.0" y="545.6" width="1.2" height="1.2" fill="rgb(150,150,150)"/>
<rect x="73.9" y="515.8" width="1.2" height="1.2" fill="rgb(169,169,169)"/>
<rect x="75.5" y="516.7" width="1.2" height="1.2" fill="rgb(168,168,168)"/>
<rect x="95.8" y="546.4" width="1.2" height="1.2" fill="rgb(213,213,213)"/>
<rect x="94.4" y="508.5" width="1.2" height="1.2" fill="rgb(153,153,153)"/>
<rect x="83.6" y="511.1" width="1.2" height="1.2" fill="rgb(198,198,198)"/>
<rect x="72.2" y="523.2" width="1.2" height="1.2" fill="rgb(222,222,222)"/>
<rect x="110.1" y="529.1" width="1.2" height="1.2" fill="rgb(214,214,214)"/>
<rect x="70.5" y="527.7" width="1.2" height="1.2" fill="rgb(224,224,224)"/>
<rect x="91.9" y="548.9" width="1.2" height="1.2" fill="rgb(205,205,205)"/>
<rect x="75.5" y="543.0" width="1.2" height="1.2" fill="rgb(179,179,179)"/>
<rect x="70.6" y="525.7" width="1.2" height="1.2" fill="rgb(200,200,200)"/>
<rect x="81.4" y="547.0" width="1.2" height="1.2" fill="rgb(190,190,190)"/>
<rect x="93.3" y="548.7" width="1.2" height="1.2" fill="rgb(169,169,169)"/>
<rect x="106.1" y="518.4" width="1.2" height="1.2" fill="rgb(204,204,204)"/>
<rect x="71.0" y="526.3" width="1.2" height="1.2" fill="rgb(166,166,166)"/>
<rect x="103.0" y="545.4" width="1.2" height="1.2" fill="rgb(189,189,189)"/>
<rect x="70.8" y="526.0" width="1.2" height="1.2" fill="rgb(211,211,211)"/>
<rect x="91.3" y="547.5" width="1.2" height="1.2" fill="rgb(211,211,211)"/>
<rect x="70.9" y="534.0" width="1.2" height="1.2" fill="rgb(212,212,212)"/>
<rect x="106.1" y="516.1" width="1.2" height="1.2" fill="rgb(153,153,153)"/>
<rect x="75.9" y="695.7" width="1.2" height="1.2" fill="rgb(211,211,211)"/>
<rect x="102.3" y="694.0" width="1.2" height="1.2" fill="rgb(168,168,168)"/>
<rect x="104.2" y="692.0" width="1.2" height="1.2" fill="rgb(210,210,210)"/>
<rect x="72.1" y="671.2" width="1.2" height="1.2" fill="rgb(156,156,156)"/>
<rect x="74.4" y="694.1" width="1.2" height="1.2" fill="rgb(202,202,202)"/>
<rect x="72.8" y="684.0" width="1.2" height="1.2" fill="rgb(209,209,209)"/>
<rect x="90.9" y="647.8" width="1.2" height="1.2" fill="rgb(201,201,201)"/>
<rect x="77.8" y="696.5" width="1.2" height="1.2" fill="rgb(167,167,167)"/>
<rect x="77.8" y="695.4" width="1.2" height="1.2" fill="rgb(178,178,178)"/>
<rect x="107.2" y="678.1" width="1.2" height="1.2" fill="rgb(192,192,192)"/>
<rect x="106.1" y="684.7" width="1.2" height="1.2" fill="rgb(203,203,203)"/>
<rect x="87.3" y="702.7" width="1.2" height="1.2" fill="rgb(168,168,168)"/>
<rect x="98.6" y="651.7" width="1.2" height="1.2" fill="rgb(197,197,197)"/>
<rect x="100.9" y="653.7" width="1.2" height="1.2" fill="rgb(181,181,181)"/>
<rect x="94.9" y="646.6" width="1.2" height="1.2" fill="rgb(177,177,177)"/>
<rect x="107.3" y="682.8" width="1.2" height="1.2" fill="rgb(177,177,177)"/>
<rect x="85.9" y="647.9" width="1.2" height="1.2" fill="rgb(180,180,180)"/>
<rect x="78.6" y="650.6" width="1.2" height="1.2" fill="rgb(176,176,176)"/>
<rect x="76.1" y="694.3" width="1.2" height="1.2" fill="rgb(219,219,219)"/>
<rect x="97.0" y="704.1" width="1.2" height="1.2" fill="rgb(203,203,203)"/>
<rect x="77.0" y="696.3" width="1.2" height="1.2" fill="rgb(174,174,174)"/>
<rect x="107.1" y="688.0" width="1.2" height="1.2" fill="rgb(178,178,178)"/>
<rect x="72.0" y="670.3" width="1.2" height="1.2" fill="rgb(217,217,217)"/>
<rect x="90.7" y="648.4" width="1.2" height="1.2" fill="rgb(194,194,194)"/>
<rect x="72.4" y="681.7" width="1.2" height="1.2" fill="rgb(212,212,212)"/>
<rect x="74.4" y="689.7" width="1.2" height="1.2" fill="rgb(216,216,216)"/>
<rect x="73.1" y="685.6" width="1.2" height="1.2" fill="rgb(188,188,188)"/>
<rect x="98.5" y="648.5" width="1.2" height="1.2" fill="rgb(205,205,205)"/>
<rect x="76.3" y="690.5" width="1.2" height="1.2" fill="rgb(200,200,200)"/>
<rect x="72.1" y="665.0" width="1.2" height="1.2" fill="rgb(207,207,207)"/>
<rect x="102.8" y="693.6" width="1.2" height="1.2" fill="rgb(155,155,155)"/>
<rect x="97.0" y="650.4" width="1.2" height="1.2" fill="rgb(156,156,156)"/>
<rect x="90.4" y="645.8" width="1.2" height="1.2" fill="rgb(154,154,154)"/>
<rect x="82.1" y="647.9" width="1.2" height="1.2" fill="rgb(186,186,186)"/>
<rect x="107.7" y="685.1" width="1.2" height="1.2" fill="rgb(181,181,181)"/>
<rect x="73.0" y="659.3" width="1.2" height="1.2" fill="rgb(211,211,211)"/>
<rect x="101.9" y="655.4" width="1.2" height="1.2" fill="rgb(175,175,175)"/>
<rect x="73.4" y="672.0" width="1.2" height="1.2" fill="rgb(224,224,224)"/>
<rect x="87.3" y="702.4" width="1.2" height="1.2" fill="rgb(173,173,173)"/>
<rect x="89.4" y="705.6" width="1.2" height="1.2" fill="rgb(191,191,191)"/>
<rect x="72.1" y="673.0" width="1.2" height="1.2" fill="rgb(153,153,153)"/>
<rect x="83.5" y="703.9" width="1.2" height="1.2" fill="rgb(210,210,210)"/>
<rect x="100.9" y="653.3" width="1.2" height="1.2" fill="rgb(165,165,165)"/>
<rect x="107.3" y="684.3" width="1.2" height="1.2" fill="rgb(178,178,178)"/>
<rect x="72.3" y="681.4" width="1.2" height="1.2" fill="rgb(193,193,193)"/>
<rect x="77.3" y="697.7" width="1.2" height="1.2" fill="rgb(165,165,165)"/>
<rect x="106.1" y="660.9" width="1.2" height="1.2" fill="rgb(153,153,153)"/>
<rect x="82.8" y="701.7" width="1.2" height="1.2" fill="rgb(180,180,180)"/>
<rect x="73.8" y="663.9" width="1.2" height="1.2" fill="rgb(170,170,170)"/>
<rect x="95.0" y="648.3" width="1.2" height="1.2" fill="rgb(203,203,203)"/>
<rect x="249.6" y="459.1" width="1.2" height="1.2" fill="rgb(184,184,184)"/>
<rect x="259.4" y="484.4" width="1.2" height="1.2" fill="rgb(215,215,215)"/>
<rect x="259.6" y="517.7" width="1.2" height="1.2" fill="rgb(197,197,197)"/>
<rect x="261.1" y="516.3" width="1.2" height="1.2" fill="rgb(155,155,155)"/>
<rect x="230.8" y="477.9" width="1.2" height="1.2" fill="rgb(219,219,219)"/>
<rect x="227.6" y="484.4" width="1.2" height="1.2" fill="rgb(187,187,187)"/>
<rect x="236.0" y="461.2" width="1.2" height="1.2" fill="rgb(172,172,172)"/>
<rect x="248.3" y="547.8" width="1.2" height="1.2" fill="rgb(160,160,160)"/>
<rect x="258.0" y="481.0" width="1.2" height="1.2" fill="rgb(157,157,157)"/>
<rect x="258.6" y="528.4" width="1.2" height="1.2" fill="rgb(221,221,221)"/>
<rect x="229.1" y="525.4" width="1.2" height="1.2" fill="rgb(169,169,169)"/>
<rect x="258.5" y="476.3" width="1.2" height="1.2" fill="rgb(161,161,161)"/>
<rect x="260.3" y="518.1" width="1.2" height="1.2" fill="rgb(153,153,153)"/>
<rect x="252.4" y="465.0" width="1.2" height="1.2" fill="rgb(167,167,167)"/>
<rect x="229.7" y="480.6" width="1.2" height="1.2" fill="rgb(192,192,192)"/>
<rect x="254.2" y="541.3" width="1.2" height="1.2" fill="rgb(174,174,174)"/>
<rect x="252.6" y="466.6" width="1.2" height="1.2" fill="rgb(209,209,209)"/>
<rect x="260.5" y="496.5" width="1.2" height="1.2" fill="rgb(152,152,152)"/>
<rect x="231.4" y="533.3" width="1.2" height="1.2" fill="rgb(166,166,166)"/>
<rect x="228.9" y="490.2" width="1.2" height="1.2" fill="rgb(184,184,184)"/>
<rect x="241.7" y="458.2" width="1.2" height="1.2" fill="rgb(200,200,200)"/>
<rect x="257.4" y="533.0" width="1.2" height="1.2" fill="rgb(159,159,159)"/>
<rect x="260.2" y="479.6" width="1.2" height="1.2" fill="rgb(220,220,220)"/>
<rect x="227.9" y="494.9" width="1.2" height="1.2" fill="rgb(176,176,176)"/>
<rect x="244.0" y="457.3" width="1.2" height="1.2" fill="rgb(219,219,219)"/>
<rect x="258.1" y="526.6" width="1.2" height="1.2" fill="rgb(214,214,214)"/>
<rect x="230.1" y="476.1" width="1.2" height="1.2" fill="rgb(156,156,156)"/>
<rect x="254.4" y="535.1" width="1.2" height="1.2" fill="rgb(216,216,216)"/>
<rect x="253.1" y="466.8" width="1.2" height="1.2" fill="rgb(219,219,219)"/>
<rect x="260.8" y="511.2" width="1.2" height="1.2" fill="rgb(222,222,222)"/>
<rect x="233.9" y="541.8" width="1.2" height="1.2" fill="rgb(199,199,199)"/>
<rect x="259.6" y="515.4" width="1.2" height="1.2" fill="rgb(183,183,183)"/>
<rect x="244.3" y="548.5" width="1.2" height="1.2" fill="rgb(163,163,163)"/>
<rect x="247.8" y="460.0" width="1.2" height="1.2" fill="rgb(155,155,155)"/>
<rect x="229.3" y="486.8" width="1.2" height="1.2" fill="rgb(191,191,191)"/>
<rect x="248.1" y="457.9" width="1.2" height="1.2" fill="rgb(184,184,184)"/>
<rect x="260.6" y="511.4" width="1.2" height="1.2" fill="rgb(157,157,157)"/>
<rect x="234.4" y="468.5" width="1.2" height="1.2" fill="rgb(193,193,193)"/>
<rect x="234.0" y="536.9" width="1.2" height="1.2" fill="rgb(199,199,199)"/>
<rect x="252.2" y="538.2" width="1.2" height="1.2" fill="rgb(220,220,220)"/>
<rect x="235.2" y="543.1" width="1.2" height="1.2" fill="rgb(215,215,215)"/>
<rect x="228.2" y="507.2" width="1.2" height="1.2" fill="rgb(157,157,157)"/>
<rect x="255.5" y="473.2" width="1.2" height="1.2" fill="rgb(187,187,187)"/>
<rect x="228.6" y="492.6" width="1.2" height="1.2" fill="rgb(185,185,185)"/>
<rect x="252.7" y="540.6" width="1.2" height="1.2" fill="rgb(188,188,188)"/>
<rect x="233.2" y="533.5" width="1.2" height="1.2" fill="rgb(180,180,180)"/>
<rect x="248.6" y="542.2" width="1.2" height="1.2" fill="rgb(167,167,167)"/>
<rect x="255.7" y="469.7" width="1.2" height="1.2" fill="rgb(216,216,216)"/>
<rect x="262.1" y="506.5" width="1.2" height="1.2" fill="rgb(186,186,186)"/>
<rect x="248.4" y="458.3" width="1.2" height="1.2" fill="rgb(201,201,201)"/>
<rect x="246.3" y="548.1" width="1.2" height="1.2" fill="rgb(161,161,161)"/>
<rect x="242.6" y="543.1" width="1.2" height="1.2" fill="rgb(179,179,179)"/>
<rect x="227.8" y="497.1" width="1.2" height="1.2" fill="rgb(216,216,216)"/>
<rect x="258.8" y="524.9" width="1.2" height="1.2" fill="rgb(167,167,167)"/>
<rect x="229.4" y="475.6" width="1.2" height="1.2" fill="rgb(203,203,203)"/>
<rect x="259.0" y="518.3" width="1.2" height="1.2" fill="rgb(194,194,194)"/>
<rect x="259.5" y="497.6" width="1.2" height="1.2" fill="rgb(196,196,196)"/>
<rect x="237.6" y="458.1" width="1.2" height="1.2" fill="rgb(175,175,175)"/>
<rect x="250.2" y="460.8" width="1.2" height="1.2" fill="rgb(219,219,219)"/>
<rect x="262.1" y="505.2" width="1.2" height="1.2" fill="rgb(180,180,180)"/>
<rect x="382.6" y="522.4" width="1.2" height="1.2" fill="rgb(168,168,168)"/>
<rect x="395.1" y="455.3" width="1.2" height="1.2" fill="rgb(161,161,161)"/>
<rect x="387.3" y="534.0" width="1.2" height="1.2" fill="rgb(164,164,164)"/>
<rect x="400.4" y="541.6" width="1.2" height="1.2" fill="rgb(223,223,223)"/>
<rect x="416.4" y="499.2" width="1.2" height="1.2" fill="rgb(185,185,185)"/>
<rect x="377.6" y="500.8" width="1.2" height="1.2" fill="rgb(218,218,218)"/>
<rect x="397.2" y="455.4" width="1.2" height="1.2" fill="rgb(164,164,164)"/>
<rect x="383.2" y="467.4" width="1.2" height="1.2" fill="rgb(208,208,208)"/>
<rect x="413.1" y="524.8" width="1.2" height="1.2" fill="rgb(176,176,176)"/>
<rect x="407.5" y="540.0" width="1.2" height="1.2" fill="rgb(200,200,200)"/>
<rect x="396.5" y="459.0" width="1.2" height="1.2" fill="rgb(212,212,212)"/>
<rect x="415.2" y="482.1" width="1.2" height="1.2" fill="rgb(205,205,205)"/>
<rect x="406.6" y="460.2" width="1.2" height="1.2" fill="rgb(194,194,194)"/>
<rect x="379.1" y="518.2" width="1.2" height="1.2" fill="rgb(208,208,208)"/>
<rect x="409.3" y="469.4" width="1.2" height="1.2" fill="rgb(222,222,222)"/>
<rect x="377.5" y="490.7" width="1.2" height="1.2" fill="rgb(158,158,158)"/>
<rect x="416.0" y="491.0" width="1.2" height="1.2" fill="rgb(168,168,168)"/>
<rect x="406.3" y="464.6" width="1.2" height="1.2" fill="rgb(164,164,164)"/>
<rect x="379.9" y="510.9" width="1.2" height="1.2" fill="rgb(186,186,186)"/>
<rect x="413.0" y="475.5" width="1.2" height="1.2" fill="rgb(203,203,203)"/>
<rect x="381.9" y="528.6" width="1.2" height="1.2" fill="rgb(209,209,209)"/>
<rect x="388.9" y="457.3" width="1.2" height="1.2" fill="rgb(211,211,211)"/>
<rect x="382.6" y="522.6" width="1.2" height="1.2" fill="rgb(198,198,198)"/>
<rect x="406.3" y="463.6" width="1.2" height="1.2" fill="rgb(194,194,194)"/>
<rect x="407.0" y="460.8" width="1.2" height="1.2" fill="rgb(150,150,150)"/>
<rect x="380.0" y="502.8" width="1.2" height="1.2" fill="rgb(158,158,158)"/>
<rect x="404.0" y="460.2" width="1.2" height="1.2" fill="rgb(195,195,195)"/>
<rect x="379.6" y="511.2" width="1.2" height="1.2" fill="rgb(166,166,166)"/>
<rect x="385.1" y="536.6" width="1.2" height="1.2" fill="rgb(196,196,196)"/>
<rect x="392.5" y="539.2" width="1.2" height="1.2" fill="rgb(170,170,170)"/>
<rect x="391.5" y="458.8" width="1.2" height="1.2" fill="rgb(199,199,199)"/>
<rect x="403.1" y="461.7" width="1.2" height="1.2" fill="rgb(201,201,201)"/>
<rect x="415.9" y="511.8" width="1.2" height="1.2" fill="rgb(163,163,163)"/>
<rect x="394.3" y="546.5" width="1.2" height="1.2" fill="rgb(177,177,177)"/>
<rect x="400.2" y="545.8" width="1.2" height="1.2" fill="rgb(195,195,195)"/>
<rect x="411.3" y="473.5" width="1.2" height="1.2" fill="rgb(187,187,187)"/>
<rect x="414.8" y="488.0" width="1.2" height="1.2" fill="rgb(224,224,224)"/>
<rect x="404.3" y="542.7" width="1.2" height="1.2" fill="rgb(162,162,162)"/>
<rect x="380.2" y="493.2" width="1.2" height="1.2" fill="rgb(163,163,163)"/>
<rect x="414.3" y="485.3" width="1.2" height="1.2" fill="rgb(210,210,210)"/>
<rect x="396.9" y="542.5" width="1.2" height="1.2" fill="rgb(157,157,157)"/>
<rect x="378.4" y="485.0" width="1.2" height="1.2" fill="rgb(188,188,188)"/>
<rect x="382.8" y="532.7" width="1.2" height="1.2" fill="rgb(217,217,217)"/>
<rect x="388.4" y="464.9" width="1.2" height="1.2" fill="rgb(196,196,196)"/>
<rect x="378.3" y="516.1" width="1.2" height="1.2" fill="rgb(177,177,177)"/>
<rect x="387.0" y="462.2" width="1.2" height="1.2" fill="rgb(178,178,178)"/>
<rect x="378.1" y="493.8" width="1.2" height="1.2" fill="rgb(218,218,218)"/>
<rect x="378.9" y="500.5" width="1.2" height="1.2" fill="rgb(223,223,223)"/>
<rect x="415.3" y="516.1" width="1.2" height="1.2" fill="rgb(201,201,201)"/>
<rect x="379.8" y="484.7" width="1.2" height="1.2" fill="rgb(206,206,206)"/>
<rect x="411.9" y="471.4" width="1.2" height="1.2" fill="rgb(206,206,206)"/>
<rect x="414.6" y="509.3" width="1.2" height="1.2" fill="rgb(160,160,160)"/>
<rect x="415.9" y="486.5" width="1.2" height="1.2" fill="rgb(160,160,160)"/>
<rect x="381.0" y="476.9" width="1.2" height="1.2" fill="rgb(153,153,153)"/>
<rect x="382.0" y="528.4" width="1.2" height="1.2" fill="rgb(198,198,198)"/>
<rect x="393.3" y="544.6" width="1.2" height="1.2" fill="rgb(171,171,171)"/>
<rect x="379.4" y="488.2" width="1.2" height="1.2" fill="rgb(223,223,223)"/>
<rect x="385.4" y="463.2" width="1.2" height="1.2" fill="rgb(200,200,200)"/>
<rect x="382.4" y="532.0" width="1.2" height="1.2" fill="rgb(203,203,203)"/>
<rect x="390.5" y="460.9" width="1.2" height="1.2" fill="rgb(162,162,162)"/>
<rect x="228.1" y="607.6" width="1.2" height="1.2" fill="rgb(209,209,209)"/>
<rect x="234.9" y="689.4" width="1.2" height="1.2" fill="rgb(188,188,188)"/>
<rect x="255.4" y="596.0" width="1.2" height="1.2" fill="rgb(205,205,205)"/>
<rect x="251.8" y="694.7" width="1.2" height="1.2" fill="rgb(154,154,154)"/>
<rect x="239.1" y="700.3" width="1.2" height="1.2" fill="rgb(222,222,222)"/>
<rect x="259.6" y="624.4" width="1.2" height="1.2" fill="rgb(173,173,173)"/>
<rect x="259.1" y="617.5" width="1.2" height="1.2" fill="rgb(174,174,174)"/>
<rect x="229.4" y="662.1" width="1.2" height="1.2" fill="rgb(169,169,169)"/>
<rect x="231.0" y="678.7" width="1.2" height="1.2" fill="rgb(222,222,222)"/>
<rect x="242.3" y="700.9" width="1.2" height="1.2" fill="rgb(218,218,218)"/>
<rect x="227.0" y="660.2" width="1.2" height="1.2" fill="rgb(197,197,197)"/>
<rect x="246.9" y="576.6" width="1.2" height="1.2" fill="rgb(161,161,161)"/>
<rect x="244.7" y="574.0" width="1.2" height="1.2" fill="rgb(191,191,191)"/>
<rect x="235.6" y="579.2" width="1.2" height="1.2" fill="rgb(170,170,170)"/>
<rect x="232.3" y="692.1" width="1.2" height="1.2" fill="rgb(189,189,189)"/>
<rect x="239.9" y="703.9" width="1.2" height="1.2" fill="rgb(169,169,169)"/>
<rect x="246.1" y="579.1" width="1.2" height="1.2" fill="rgb(211,211,211)"/>
<rect x="228.9" y="613.1" width="1.2" height="1.2" fill="rgb(220,220,220)"/>
<rect x="242.4" y="701.3" width="1.2" height="1.2" fill="rgb(155,155,155)"/>
<rect x="227.2" y="618.5" width="1.2" height="1.2" fill="rgb(200,200,200)"/>
<rect x="228.8" y="674.8" width="1.2" height="1.2" fill="rgb(158,158,158)"/>
<rect x="237.9" y="701.7" width="1.2" height="1.2" fill="rgb(222,222,222)"/>
<rect x="232.4" y="588.7" width="1.2" height="1.2" fill="rgb(208,208,208)"/>
<rect x="229.7" y="682.2" width="1.2" height="1.2" fill="rgb(205,205,205)"/>
<rect x="235.0" y="692.9" width="1.2" height="1.2" fill="rgb(210,210,210)"/>
<rect x="234.6" y="689.2" width="1.2" height="1.2" fill="rgb(215,215,215)"/>
<rect x="227.4" y="626.0" width="1.2" height="1.2" fill="rgb(200,200,200)"/>
<rect x="256.9" y="603.4" width="1.2" height="1.2" fill="rgb(175,175,175)"/>
<rect x="259.2" y="665.0" width="1.2" height="1.2" fill="rgb(187,187,187)"/>
<rect x="254.4" y="585.1" width="1.2" height="1.2" fill="rgb(193,193,193)"/>
<rect x="229.9" y="676.7" width="1.2" height="1.2" fill="rgb(170,170,170)"/>
<rect x="253.9" y="582.3" width="1.2" height="1.2" fill="rgb(212,212,212)"/>
<rect x="254.1" y="693.7" width="1.2" height="1.2" fill="rgb(206,206,206)"/>
<rect x="226.0" y="638.8" width="1.2" height="1.2" fill="rgb(217,217,217)"/>
<rect x="243.2" y="570.2" width="1.2" height="1.2" fill="rgb(198,198,198)"/>
<rect x="255.5" y="596.6" width="1.2" height="1.2" fill="rgb(202,202,202)"/>
<rect x="239.1" y="575.2" width="1.2" height="1.2" fill="rgb(170,170,170)"/>
<rect x="259.7" y="666.3" width="1.2" height="1.2" fill="rgb(211,211,211)"/>
<rect x="241.7" y="700.7" width="1.2" height="1.2" fill="rgb(166,166,166)"/>
<rect x="258.5" y="676.4" width="1.2" height="1.2" fill="rgb(223,223,223)"/>
<rect x="249.3" y="578.5" width="1.2" height="1.2" fill="rgb(202,202,202)"/>
<rect x="260.0" y="669.3" width="1.2" height="1.2" fill="rgb(174,174,174)"/>
<rect x="261.3" y="640.4" width="1.2" height="1.2" fill="rgb(160,160,160)"/>
<rect x="241.5" y="698.9" width="1.2" height="1.2" fill="rgb(183,183,183)"/>
<rect x="227.3" y="615.8" width="1.2" height="1.2" fill="rgb(152,152,152)"/>
<rect x="251.4" y="584.9" width="1.2" height="1.2" fill="rgb(166,166,166)"/>
<rect x="232.7" y="592.7" width="1.2" height="1.2" fill="rgb(174,174,174)"/>
<rect x="229.4" y="613.0" width="1.2" height="1.2" fill="rgb(209,209,209)"/>
<rect x="248.5" y="705.8" width="1.2" height="1.2" fill="rgb(210,210,210)"/>
<rect x="228.8" y="625.1" width="1.2" height="1.2" fill="rgb(208,208,208)"/>
<rect x="260.6" y="650.6" width="1.2" height="1.2" fill="rgb(181,181,181)"/>
<rect x="259.9" y="664.8" width="1.2" height="1.2" fill="rgb(204,204,204)"/>
<rect x="229.7" y="606.3" width="1.2" height="1.2" fill="rgb(188,188,188)"/>
<rect x="230.3" y="606.0" width="1.2" height="1.2" fill="rgb(215,215,215)"/>
<rect x="261.7" y="637.1" width="1.2" height="1.2" fill="rgb(222,222,222)"/>
<rect x="235.3" y="701.0" width="1.2" height="1.2" fill="rgb(155,155,155)"/>
<rect x="228.3" y="647.5" width="1.2" height="1.2" fill="rgb(184,184,184)"/>
<rect x="236.8" y="577.3" width="1.2" height="1.2" fill="rgb(184,184,184)"/>
<rect x="235.3" y="691.0" width="1.2" height="1.2" fill="rgb(180,180,180)"/>
<rect x="240.7" y="699.8" width="1.2" height="1.2" fill="rgb(205,205,205)"/>
<rect x="227.4" y="632.4" width="1.2" height="1.2" fill="rgb(164,164,164)"/>
<rect x="239.4" y="579.5" width="1.2" height="1.2" fill="rgb(169,169,169)"/>
<rect x="227.8" y="614.0" width="1.2" height="1.2" fill="rgb(222,222,222)"/>
<rect x="243.7" y="568.8" width="1.2" height="1.2" fill="rgb(218,218,218)"/>
<rect x="241.0" y="572.2" width="1.2" height="1.2" fill="rgb(154,154,154)"/>
<rect x="248.3" y="696.8" width="1.2" height="1.2" fill="rgb(214,214,214)"/>
<rect x="241.0" y="573.2" width="1.2" height="1.2" fill="rgb(169,169,169)"/>
<rect x="234.2" y="687.7" width="1.2" height="1.2" fill="rgb(197,197,197)"/>
<rect x="260.3" y="635.6" width="1.2" height="1.2" fill="rgb(153,153,153)"/>
<rect x="251.5" y="695.9" width="1.2" height="1.2" fill="rgb(217,217,217)"/>
<rect x="249.6" y="577.9" width="1.2" height="1.2" fill="rgb(157,157,157)"/>
<rect x="256.5" y="677.3" width="1.2" height="1.2" fill="rgb(208,208,208)"/>
<rect x="226.0" y="651.7" width="1.2" height="1.2" fill="rgb(218,218,218)"/>
<rect x="248.7" y="576.4" width="1.2" height="1.2" fill="rgb(211,211,211)"/>
<rect x="254.9" y="683.1" width="1.2" height="1.2" fill="rgb(192,192,192)"/>
<rect x="227.9" y="635.9" width="1.2" height="1.2" fill="rgb(168,168,168)"/>
<rect x="261.9" y="648.3" width="1.2" height="1.2" fill="rgb(203,203,203)"/>
<rect x="261.2" y="615.2" width="1.2" height="1.2" fill="rgb(182,182,182)"/>
<rect x="242.2" y="575.2" width="1.2" height="1.2" fill="rgb(210,210,210)"/>
<rect x="252.6" y="587.4" width="1.2" height="1.2" fill="rgb(150,150,150)"/>
<rect x="401.8" y="700.8" width="1.2" height="1.2" fill="rgb(178,178,178)"/>
<rect x="415.8" y="638.1" width="1.2" height="1.2" fill="rgb(208,208,208)"/>
<rect x="382.8" y="648.1" width="1.2" height="1.2" fill="rgb(216,216,216)"/>
<rect x="382.7" y="620.6" width="1.2" height="1.2" fill="rgb(174,174,174)"/>
<rect x="385.3" y="583.3" width="1.2" height="1.2" fill="rgb(186,186,186)"/>
<rect x="387.7" y="584.6" width="1.2" height="1.2" fill="rgb(168,168,168)"/>
<rect x="411.7" y="597.0" width="1.2" height="1.2" fill="rgb(157,157,157)"/>
<rect x="384.7" y="599.6" width="1.2" height="1.2" fill="rgb(164,164,164)"/>
<rect x="381.5" y="652.5" width="1.2" height="1.2" fill="rgb(197,197,197)"/>
<rect x="393.5" y="569.5" width="1.2" height="1.2" fill="rgb(155,155,155)"/>
<rect x="395.5" y="572.2" width="1.2" height="1.2" fill="rgb(185,185,185)"/>
<rect x="383.9" y="674.8" width="1.2" height="1.2" fill="rgb(203,203,203)"/>
<rect x="399.1" y="703.1" width="1.2" height="1.2" fill="rgb(201,201,201)"/>
<rect x="382.4" y="645.2" width="1.2" height="1.2" fill="rgb(218,218,218)"/>
<rect x="385.3" y="597.4" width="1.2" height="1.2" fill="rgb(167,167,167)"/>
<rect x="414.1" y="628.7" width="1.2" height="1.2" fill="rgb(179,179,179)"/>
<rect x="402.2" y="564.8" width="1.2" height="1.2" fill="rgb(197,197,197)"/>
<rect x="397.2" y="571.7" width="1.2" height="1.2" fill="rgb(157,157,157)"/>
<rect x="415.5" y="623.4" width="1.2" height="1.2" fill="rgb(152,152,152)"/>
<rect x="413.4" y="653.5" width="1.2" height="1.2" fill="rgb(219,219,219)"/>
<rect x="401.3" y="702.2" width="1.2" height="1.2" fill="rgb(219,219,219)"/>
<rect x="386.4" y="578.7" width="1.2" height="1.2" fill="rgb(169,169,169)"/>
<rect x="406.9" y="685.1" width="1.2" height="1.2" fill="rgb(206,206,206)"/>
<rect x="412.5" y="678.2" width="1.2" height="1.2" fill="rgb(203,203,203)"/>
<rect x="404.9" y="699.5" width="1.2" height="1.2" fill="rgb(162,162,162)"/>
<rect x="382.3" y="629.2" width="1.2" height="1.2" fill="rgb(209,209,209)"/>
<rect x="411.9" y="587.8" width="1.2" height="1.2" fill="rgb(150,150,150)"/>
<rect x="408.1" y="579.2" width="1.2" height="1.2" fill="rgb(211,211,211)"/>
<rect x="380.8" y="632.9" width="1.2" height="1.2" fill="rgb(194,194,194)"/>
<rect x="402.8" y="574.2" width="1.2" height="1.2" fill="rgb(154,154,154)"/>
<rect x="382.3" y="615.6" width="1.2" height="1.2" fill="rgb(179,179,179)"/>
<rect x="415.6" y="637.4" width="1.2" height="1.2" fill="rgb(151,151,151)"/>
<rect x="406.5" y="571.7" width="1.2" height="1.2" fill="rgb(184,184,184)"/>
<rect x="410.5" y="682.1" width="1.2" height="1.2" fill="rgb(165,165,165)"/>
<rect x="383.7" y="661.3" width="1.2" height="1.2" fill="rgb(223,223,223)"/>
<rect x="382.2" y="615.2" width="1.2" height="1.2" fill="rgb(157,157,157)"/>
<rect x="395.8" y="563.1" width="1.2" height="1.2" fill="rgb(213,213,213)"/>
<rect x="411.3" y="673.3" width="1.2" height="1.2" fill="rgb(172,172,172)"/>
<rect x="399.2" y="570.5" width="1.2" height="1.2" fill="rgb(195,195,195)"/>
<rect x="415.5" y="624.5" width="1.2" height="1.2" fill="rgb(150,150,150)"/>
<rect x="412.1" y="662.7" width="1.2" height="1.2" fill="rgb(201,201,201)"/>
<rect x="384.2" y="594.6" width="1.2" height="1.2" fill="rgb(184,184,184)"/>
<rect x="383.6" y="671.8" width="1.2" height="1.2" fill="rgb(198,198,198)"/>
<rect x="413.2" y="598.8" width="1.2" height="1.2" fill="rgb(209,209,209)"/>
<rect x="413.2" y="596.9" width="1.2" height="1.2" fill="rgb(203,203,203)"/>
<rect x="415.1" y="647.3" width="1.2" height="1.2" fill="rgb(213,213,213)"/>
<rect x="381.7" y="664.3" width="1.2" height="1.2" fill="rgb(163,163,163)"/>
<rect x="413.7" y="610.4" width="1.2" height="1.2" fill="rgb(202,202,202)"/>
<rect x="397.7" y="699.3" width="1.2" height="1.2" fill="rgb(176,176,176)"/>
<rect x="390.9" y="690.3" width="1.2" height="1.2" fill="rgb(183,183,183)"/>
<rect x="415.2" y="625.7" width="1.2" height="1.2" fill="rgb(219,219,219)"/>
<rect x="399.4" y="562.9" width="1.2" height="1.2" fill="rgb(224,224,224)"/>
<rect x="398.3" y="568.9" width="1.2" height="1.2" fill="rgb(168,168,168)"/>
<rect x="384.7" y="666.5" width="1.2" height="1.2" fill="rgb(167,167,167)"/>
<rect x="411.6" y="586.6" width="1.2" height="1.2" fill="rgb(174,174,174)"/>
<rect x="400.3" y="563.9" width="1.2" height="1.2" fill="rgb(216,216,216)"/>
<rect x="402.7" y="568.7" width="1.2" height="1.2" fill="rgb(157,157,157)"/>
<rect x="405.5" y="575.7" width="1.2" height="1.2" fill="rgb(197,197,197)"/>
<rect x="386.6" y="684.4" width="1.2" height="1.2" fill="rgb(222,222,222)"/>
<rect x="407.0" y="691.6" width="1.2" height="1.2" fill="rgb(198,198,198)"/>
<rect x="380.4" y="616.7" width="1.2" height="1.2" fill="rgb(180,180,180)"/>
<rect x="412.9" y="598.1" width="1.2" height="1.2" fill="rgb(222,222,222)"/>
<rect x="411.6" y="668.4" width="1.2" height="1.2" fill="rgb(171,171,171)"/>
<rect x="410.9" y="599.6" width="1.2" height="1.2" fill="rgb(169,169,169)"/>
<rect x="394.1" y="562.6" width="1.2" height="1.2" fill="rgb(163,163,163)"/>
<rect x="381.9" y="660.5" width="1.2" height="1.2" fill="rgb(201,201,201)"/>
<rect x="397.6" y="563.6" width="1.2" height="1.2" fill="rgb(168,168,168)"/>
<rect x="397.3" y="696.2" width="1.2" height="1.2" fill="rgb(201,201,201)"/>
<rect x="402.1" y="696.8" width="1.2" height="1.2" fill="rgb(222,222,222)"/>
<rect x="387.3" y="580.3" width="1.2" height="1.2" fill="rgb(199,199,199)"/>
<rect x="383.8" y="593.8" width="1.2" height="1.2" fill="rgb(172,172,172)"/>
<rect x="412.4" y="658.5" width="1.2" height="1.2" fill="rgb(151,151,151)"/>
<rect x="387.8" y="682.6" width="1.2" height="1.2" fill="rgb(158,158,158)"/>
<rect x="379.8" y="636.9" width="1.2" height="1.2" fill="rgb(201,201,201)"/>
<rect x="395.4" y="703.8" width="1.2" height="1.2" fill="rgb(163,163,163)"/>
<rect x="411.2" y="672.5" width="1.2" height="1.2" fill="rgb(180,180,180)"/>
<rect x="391.8" y="571.8" width="1.2" height="1.2" fill="rgb(204,204,204)"/>
<rect x="413.0" y="674.6" width="1.2" height="1.2" fill="rgb(175,175,175)"/>
<rect x="405.7" y="579.8" width="1.2" height="1.2" fill="rgb(212,212,212)"/>
<rect x="400.7" y="704.7" width="1.2" height="1.2" fill="rgb(210,210,210)"/>
<path d="M84,513 C87,507 89,500 91,497.5 C93,500 95,507 97,513 Z" fill="#151515"/>
<g><path d="M73.6,529 A16.9,17 0 1,0 107.4,529 A16.9,17 0 1,0 73.6,529 Z" fill="#1c1c1c"/><path d="M73.6,529 A16.9,17 0 1,0 107.4,529 A16.9,17 0 1,0 73.6,529 Z" fill="none" stroke="#151515" stroke-width="1.6"/><path d="M73.6,529 A16.9,17 0 1,0 107.4,529 A16.9,17 0 1,0 73.6,529 Z" fill="none" stroke="#8c8c8c" stroke-width="1.3" transform="translate(90.5,529) scale(0.82) translate(-90.5,-529)"/><path d="M73.6,529 A16.9,17 0 1,0 107.4,529 A16.9,17 0 1,0 73.6,529 Z" fill="none" stroke="#333" stroke-width="0.9" transform="translate(90.5,529) scale(0.45) translate(-90.5,-529)"/></g>
<g><path d="M244.5,461.5 C255,461.5 259.5,468 259.5,479 C259.5,490 256.5,498 256.5,506 C256.5,513 259.5,519 259.5,528 C259.5,538 253,543.5 245,543.5 C237,543.5 230.5,538 230.5,528 C230.5,519 232,513 232,506 C232,498 229.5,490 229.5,479 C229.5,468 234,461.5 244.5,461.5 Z" fill="#1c1c1c"/><path d="M244.5,461.5 C255,461.5 259.5,468 259.5,479 C259.5,490 256.5,498 256.5,506 C256.5,513 259.5,519 259.5,528 C259.5,538 253,543.5 245,543.5 C237,543.5 230.5,538 230.5,528 C230.5,519 232,513 232,506 C232,498 229.5,490 229.5,479 C229.5,468 234,461.5 244.5,461.5 Z" fill="none" stroke="#151515" stroke-width="1.6"/><path d="M244.5,461.5 C255,461.5 259.5,468 259.5,479 C259.5,490 256.5,498 256.5,506 C256.5,513 259.5,519 259.5,528 C259.5,538 253,543.5 245,543.5 C237,543.5 230.5,538 230.5,528 C230.5,519 232,513 232,506 C232,498 229.5,490 229.5,479 C229.5,468 234,461.5 244.5,461.5 Z" fill="none" stroke="#8c8c8c" stroke-width="1.1" transform="translate(244.5,502) scale(0.88) translate(-244.5,-502)"/><path d="M244.5,461.5 C255,461.5 259.5,468 259.5,479 C259.5,490 256.5,498 256.5,506 C256.5,513 259.5,519 259.5,528 C259.5,538 253,543.5 245,543.5 C237,543.5 230.5,538 230.5,528 C230.5,519 232,513 232,506 C232,498 229.5,490 229.5,479 C229.5,468 234,461.5 244.5,461.5 Z" fill="none" stroke="#555" stroke-width="1.0" transform="translate(244.5,502) scale(0.76) translate(-244.5,-502)"/><path d="M244.5,461.5 C255,461.5 259.5,468 259.5,479 C259.5,490 256.5,498 256.5,506 C256.5,513 259.5,519 259.5,528 C259.5,538 253,543.5 245,543.5 C237,543.5 230.5,538 230.5,528 C230.5,519 232,513 232,506 C232,498 229.5,490 229.5,479 C229.5,468 234,461.5 244.5,461.5 Z" fill="none" stroke="#707070" stroke-width="0.9" transform="translate(244.5,502) scale(0.62) translate(-244.5,-502)"/><path d="M244.5,461.5 C255,461.5 259.5,468 259.5,479 C259.5,490 256.5,498 256.5,506 C256.5,513 259.5,519 259.5,528 C259.5,538 253,543.5 245,543.5 C237,543.5 230.5,538 230.5,528 C230.5,519 232,513 232,506 C232,498 229.5,490 229.5,479 C229.5,468 234,461.5 244.5,461.5 Z" fill="none" stroke="#555" stroke-width="0.9" transform="translate(244.5,502) scale(0.47) translate(-244.5,-502)"/><path d="M244.5,461.5 C255,461.5 259.5,468 259.5,479 C259.5,490 256.5,498 256.5,506 C256.5,513 259.5,519 259.5,528 C259.5,538 253,543.5 245,543.5 C237,543.5 230.5,538 230.5,528 C230.5,519 232,513 232,506 C232,498 229.5,490 229.5,479 C229.5,468 234,461.5 244.5,461.5 Z" fill="none" stroke="#666" stroke-width="0.8" transform="translate(244.5,502) scale(0.3) translate(-244.5,-502)"/></g>
<g><path d="M397,460.5 C407,460.5 413.6,466 413.6,474 C413.6,484 410,490 407.5,497 C406,503 405.5,508 406,513 C407,519 411,522 410.5,530 C410,537 404,540 398,540 C391,540 387.5,537 386.5,530 C385.5,520 384.5,512 383.5,503 C382.5,495 380.6,488 380.6,476 C380.6,466 387,460.5 397,460.5 Z" fill="#1c1c1c"/><path d="M397,460.5 C407,460.5 413.6,466 413.6,474 C413.6,484 410,490 407.5,497 C406,503 405.5,508 406,513 C407,519 411,522 410.5,530 C410,537 404,540 398,540 C391,540 387.5,537 386.5,530 C385.5,520 384.5,512 383.5,503 C382.5,495 380.6,488 380.6,476 C380.6,466 387,460.5 397,460.5 Z" fill="none" stroke="#151515" stroke-width="1.6"/><path d="M397,460.5 C407,460.5 413.6,466 413.6,474 C413.6,484 410,490 407.5,497 C406,503 405.5,508 406,513 C407,519 411,522 410.5,530 C410,537 404,540 398,540 C391,540 387.5,537 386.5,530 C385.5,520 384.5,512 383.5,503 C382.5,495 380.6,488 380.6,476 C380.6,466 387,460.5 397,460.5 Z" fill="none" stroke="#8c8c8c" stroke-width="1.1" transform="translate(397,495) scale(0.88) translate(-397,-495)"/><path d="M397,460.5 C407,460.5 413.6,466 413.6,474 C413.6,484 410,490 407.5,497 C406,503 405.5,508 406,513 C407,519 411,522 410.5,530 C410,537 404,540 398,540 C391,540 387.5,537 386.5,530 C385.5,520 384.5,512 383.5,503 C382.5,495 380.6,488 380.6,476 C380.6,466 387,460.5 397,460.5 Z" fill="none" stroke="#555" stroke-width="1.0" transform="translate(397,495) scale(0.76) translate(-397,-495)"/><path d="M397,460.5 C407,460.5 413.6,466 413.6,474 C413.6,484 410,490 407.5,497 C406,503 405.5,508 406,513 C407,519 411,522 410.5,530 C410,537 404,540 398,540 C391,540 387.5,537 386.5,530 C385.5,520 384.5,512 383.5,503 C382.5,495 380.6,488 380.6,476 C380.6,466 387,460.5 397,460.5 Z" fill="none" stroke="#707070" stroke-width="0.9" transform="translate(397,495) scale(0.62) translate(-397,-495)"/><path d="M397,460.5 C407,460.5 413.6,466 413.6,474 C413.6,484 410,490 407.5,497 C406,503 405.5,508 406,513 C407,519 411,522 410.5,530 C410,537 404,540 398,540 C391,540 387.5,537 386.5,530 C385.5,520 384.5,512 383.5,503 C382.5,495 380.6,488 380.6,476 C380.6,466 387,460.5 397,460.5 Z" fill="none" stroke="#555" stroke-width="0.9" transform="translate(397,495) scale(0.47) translate(-397,-495)"/><path d="M397,460.5 C407,460.5 413.6,466 413.6,474 C413.6,484 410,490 407.5,497 C406,503 405.5,508 406,513 C407,519 411,522 410.5,530 C410,537 404,540 398,540 C391,540 387.5,537 386.5,530 C385.5,520 384.5,512 383.5,503 C382.5,495 380.6,488 380.6,476 C380.6,466 387,460.5 397,460.5 Z" fill="none" stroke="#666" stroke-width="0.8" transform="translate(397,495) scale(0.3) translate(-397,-495)"/></g>
<g><path d="M90.5,647.5 C95,647.5 100,652 103,660 C106,668 106.5,676 106.5,682 C106.5,694 99,701 90.5,701 C82,701 74,694 74,682 C74,676 75,668 78,660 C81,652 86,647.5 90.5,647.5 Z" fill="#1c1c1c"/><path d="M90.5,647.5 C95,647.5 100,652 103,660 C106,668 106.5,676 106.5,682 C106.5,694 99,701 90.5,701 C82,701 74,694 74,682 C74,676 75,668 78,660 C81,652 86,647.5 90.5,647.5 Z" fill="none" stroke="#151515" stroke-width="1.6"/><path d="M90.5,647.5 C95,647.5 100,652 103,660 C106,668 106.5,676 106.5,682 C106.5,694 99,701 90.5,701 C82,701 74,694 74,682 C74,676 75,668 78,660 C81,652 86,647.5 90.5,647.5 Z" fill="none" stroke="#8c8c8c" stroke-width="1.3" transform="translate(90.5,677) scale(0.84) translate(-90.5,-677)"/><path d="M90.5,647.5 C95,647.5 100,652 103,660 C106,668 106.5,676 106.5,682 C106.5,694 99,701 90.5,701 C82,701 74,694 74,682 C74,676 75,668 78,660 C81,652 86,647.5 90.5,647.5 Z" fill="none" stroke="#383838" stroke-width="0.9" transform="translate(90.5,677) scale(0.5) translate(-90.5,-677)"/></g>
<g><path d="M245,579.5 C254,579.5 259.4,592 259.4,615 L259.4,650 C259.4,680 254,699 243.5,699 C233,699 228.4,682 228.4,655 L228.4,620 C228.4,595 236,579.5 245,579.5 Z" fill="#1c1c1c"/><path d="M245,579.5 C254,579.5 259.4,592 259.4,615 L259.4,650 C259.4,680 254,699 243.5,699 C233,699 228.4,682 228.4,655 L228.4,620 C228.4,595 236,579.5 245,579.5 Z" fill="none" stroke="#151515" stroke-width="1.6"/><path d="M245,579.5 C254,579.5 259.4,592 259.4,615 L259.4,650 C259.4,680 254,699 243.5,699 C233,699 228.4,682 228.4,655 L228.4,620 C228.4,595 236,579.5 245,579.5 Z" fill="none" stroke="#8c8c8c" stroke-width="1.1" transform="translate(244,639) scale(0.92) translate(-244,-639)"/><path d="M245,579.5 C254,579.5 259.4,592 259.4,615 L259.4,650 C259.4,680 254,699 243.5,699 C233,699 228.4,682 228.4,655 L228.4,620 C228.4,595 236,579.5 245,579.5 Z" fill="none" stroke="#555" stroke-width="1.0" transform="translate(244,639) scale(0.83) translate(-244,-639)"/><path d="M245,579.5 C254,579.5 259.4,592 259.4,615 L259.4,650 C259.4,680 254,699 243.5,699 C233,699 228.4,682 228.4,655 L228.4,620 C228.4,595 236,579.5 245,579.5 Z" fill="none" stroke="#777" stroke-width="0.9" transform="translate(244,639) scale(0.72) translate(-244,-639)"/><path d="M245,579.5 C254,579.5 259.4,592 259.4,615 L259.4,650 C259.4,680 254,699 243.5,699 C233,699 228.4,682 228.4,655 L228.4,620 C228.4,595 236,579.5 245,579.5 Z" fill="none" stroke="#555" stroke-width="0.9" transform="translate(244,639) scale(0.6) translate(-244,-639)"/><path d="M245,579.5 C254,579.5 259.4,592 259.4,615 L259.4,650 C259.4,680 254,699 243.5,699 C233,699 228.4,682 228.4,655 L228.4,620 C228.4,595 236,579.5 245,579.5 Z" fill="none" stroke="#6a6a6a" stroke-width="0.9" transform="translate(244,639) scale(0.47) translate(-244,-639)"/><path d="M245,579.5 C254,579.5 259.4,592 259.4,615 L259.4,650 C259.4,680 254,699 243.5,699 C233,699 228.4,682 228.4,655 L228.4,620 C228.4,595 236,579.5 245,579.5 Z" fill="none" stroke="#555" stroke-width="0.8" transform="translate(244,639) scale(0.33) translate(-244,-639)"/></g>
<g><path d="M398,572 C408,572 413.4,578 413.4,595 L413.4,640 C413.4,652 410.5,660 410.5,672 C410.5,688 405,696 397.5,696 C390,696 385.5,688 385.5,672 C385.5,660 382.4,652 382.4,640 L382.4,595 C382.4,578 388,572 398,572 Z" fill="#1c1c1c"/><path d="M398,572 C408,572 413.4,578 413.4,595 L413.4,640 C413.4,652 410.5,660 410.5,672 C410.5,688 405,696 397.5,696 C390,696 385.5,688 385.5,672 C385.5,660 382.4,652 382.4,640 L382.4,595 C382.4,578 388,572 398,572 Z" fill="none" stroke="#151515" stroke-width="1.6"/><path d="M398,572 C408,572 413.4,578 413.4,595 L413.4,640 C413.4,652 410.5,660 410.5,672 C410.5,688 405,696 397.5,696 C390,696 385.5,688 385.5,672 C385.5,660 382.4,652 382.4,640 L382.4,595 C382.4,578 388,572 398,572 Z" fill="none" stroke="#8c8c8c" stroke-width="1.1" transform="translate(398,634) scale(0.92) translate(-398,-634)"/><path d="M398,572 C408,572 413.4,578 413.4,595 L413.4,640 C413.4,652 410.5,660 410.5,672 C410.5,688 405,696 397.5,696 C390,696 385.5,688 385.5,672 C385.5,660 382.4,652 382.4,640 L382.4,595 C382.4,578 388,572 398,572 Z" fill="none" stroke="#555" stroke-width="1.0" transform="translate(398,634) scale(0.83) translate(-398,-634)"/><path d="M398,572 C408,572 413.4,578 413.4,595 L413.4,640 C413.4,652 410.5,660 410.5,672 C410.5,688 405,696 397.5,696 C390,696 385.5,688 385.5,672 C385.5,660 382.4,652 382.4,640 L382.4,595 C382.4,578 388,572 398,572 Z" fill="none" stroke="#777" stroke-width="0.9" transform="translate(398,634) scale(0.72) translate(-398,-634)"/><path d="M398,572 C408,572 413.4,578 413.4,595 L413.4,640 C413.4,652 410.5,660 410.5,672 C410.5,688 405,696 397.5,696 C390,696 385.5,688 385.5,672 C385.5,660 382.4,652 382.4,640 L382.4,595 C382.4,578 388,572 398,572 Z" fill="none" stroke="#555" stroke-width="0.9" transform="translate(398,634) scale(0.6) translate(-398,-634)"/><path d="M398,572 C408,572 413.4,578 413.4,595 L413.4,640 C413.4,652 410.5,660 410.5,672 C410.5,688 405,696 397.5,696 C390,696 385.5,688 385.5,672 C385.5,660 382.4,652 382.4,640 L382.4,595 C382.4,578 388,572 398,572 Z" fill="none" stroke="#6a6a6a" stroke-width="0.9" transform="translate(398,634) scale(0.47) translate(-398,-634)"/><path d="M398,572 C408,572 413.4,578 413.4,595 L413.4,640 C413.4,652 410.5,660 410.5,672 C410.5,688 405,696 397.5,696 C390,696 385.5,688 385.5,672 C385.5,660 382.4,652 382.4,640 L382.4,595 C382.4,578 388,572 398,572 Z" fill="none" stroke="#555" stroke-width="0.8" transform="translate(398,634) scale(0.33) translate(-398,-634)"/></g>
<rect x="71.7" y="419.2" width="46.1" height="90.6" fill="none" stroke="#151515" stroke-width="2.4"/>
<rect x="71.7" y="569.2" width="46.1" height="90.6" fill="none" stroke="#151515" stroke-width="2.4"/>
<rect x="226.2" y="419.2" width="46.1" height="90.6" fill="none" stroke="#151515" stroke-width="2.4"/>
<rect x="226.2" y="569.2" width="46.1" height="90.6" fill="none" stroke="#151515" stroke-width="2.4"/>
<rect x="379.7" y="419.2" width="46.1" height="90.6" fill="none" stroke="#151515" stroke-width="2.4"/>
<rect x="379.7" y="569.2" width="46.1" height="90.6" fill="none" stroke="#151515" stroke-width="2.4"/>
</svg>
</body></html>
